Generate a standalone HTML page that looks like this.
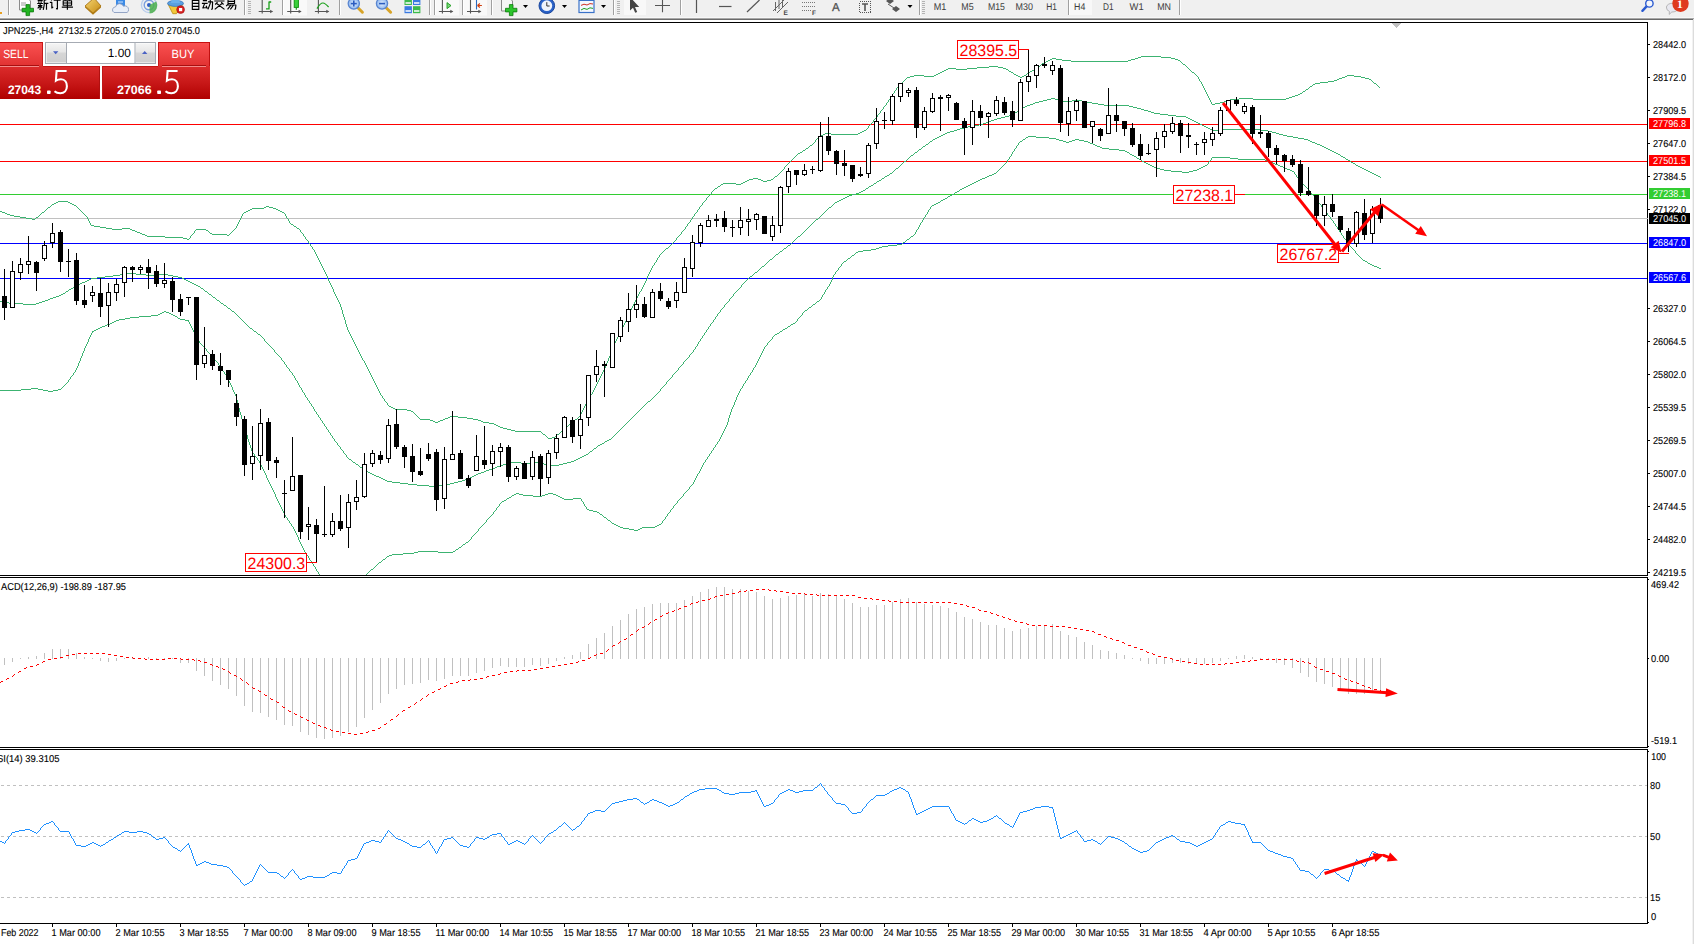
<!DOCTYPE html>
<html><head><meta charset="utf-8"><title>JPN225 H4</title>
<style>
html,body{margin:0;padding:0;background:#fff;overflow:hidden}
body{width:1694px;height:944px;position:relative;font-family:"Liberation Sans",sans-serif}
svg{position:absolute;left:0;top:0;display:block}
svg text{font-family:"Liberation Sans",sans-serif;text-rendering:geometricPrecision}
.k{stroke:#000;stroke-width:0.12px}
</style></head><body>
<svg width="1694" height="944" viewBox="0 0 1694 944">
<rect x="0" y="0" width="1694" height="18" fill="#f0f0f0"/>
<rect x="0" y="17" width="1694" height="1" fill="#f7f7f7"/>
<rect x="0" y="18" width="1694" height="1" fill="#a8a8a8"/>
<rect x="0" y="19" width="1694" height="1" fill="#6a6a6a"/>
<rect x="0" y="22" width="1648" height="1" fill="#000"/>
<rect x="1692" y="20" width="1" height="924" fill="#f2f2f2"/>
<rect x="1693" y="19" width="1" height="925" fill="#dcdcdc"/>
<defs><clipPath id="cm"><rect x="0" y="23" width="1647" height="552"/></clipPath><clipPath id="c2"><rect x="0" y="578" width="1647" height="169"/></clipPath><clipPath id="c3"><rect x="0" y="750" width="1647" height="173"/></clipPath></defs>
<rect x="1647" y="22" width="1" height="554" fill="#000"/>
<rect x="1647" y="577" width="1" height="171" fill="#000"/>
<rect x="1647" y="749" width="1" height="175" fill="#000"/>
<rect x="0" y="575" width="1648" height="1" fill="#000"/>
<rect x="0" y="577" width="1648" height="1" fill="#000"/>
<rect x="0" y="747" width="1648" height="1" fill="#000"/>
<rect x="0" y="749" width="1648" height="1" fill="#000"/>
<rect x="0" y="923" width="1648" height="1" fill="#000"/>
<rect x="1648" y="579" width="1" height="1" fill="#000"/>
<rect x="1648" y="746" width="1" height="1" fill="#000"/>
<rect x="1648" y="751" width="1" height="1" fill="#000"/>
<rect x="1648" y="922" width="1" height="1" fill="#000"/>
<rect x="1392" y="23" width="9" height="1" fill="#c0c0c0"/>
<rect x="1393" y="24" width="7" height="1" fill="#c0c0c0"/>
<rect x="1394" y="25" width="5" height="1" fill="#c0c0c0"/>
<rect x="1395" y="26" width="3" height="1" fill="#c0c0c0"/>
<rect x="1396" y="27" width="1" height="1" fill="#c0c0c0"/>
<g shape-rendering="crispEdges">
<rect x="0" y="124" width="1647" height="1" fill="#ff0000"/>
<rect x="0" y="161" width="1647" height="1" fill="#ff0000"/>
<rect x="0" y="194" width="1647" height="1" fill="#32cd32"/>
<rect x="0" y="218" width="1647" height="1" fill="#c0c0c0"/>
<rect x="0" y="243" width="1647" height="1" fill="#0000ff"/>
<rect x="0" y="278" width="1647" height="1" fill="#0000ff"/>
<path d="M0 0m1141 56h20m-23 1h3m20 0h10m-119 1h4m79 0h3m33 0h4m-125 1h2m4 0h6m69 0h4m40 0h3m-130 1h2m12 0h9m57 0h3m47 0h2m-134 1h2m23 0h57m52 0h1m-137 1h2m135 0h1m-140 1h2m138 0h1m-142 1h1m141 0h2m-145 1h1m144 0h1m-197 1h9m40 0h2m146 0h1m-210 1h12m9 0h5m34 0h1m149 0h1m-240 1h8m11 0h10m26 0h3m29 0h2m151 0h1m-243 1h2m8 0h11m39 0h2m26 0h1m154 0h1m-246 1h2m62 0h1m23 0h2m156 0h1m-249 1h2m65 0h2m19 0h2m159 0h1m-252 1h2m69 0h2m16 0h1m162 0h2m-256 1h2m73 0h1m13 0h2m165 0h1m-259 1h2m76 0h2m10 0h1m168 0h1m-282 1h10m10 0h2m80 0h2m6 0h2m170 0h1m150 0h7m-444 1h4m10 0h10m84 0h2m2 0h2m173 0h1m147 0h2m7 0h7m-454 1h3m110 0h2m176 0h1m143 0h3m16 0h4m-459 1h1m291 0h1m140 0h3m23 0h4m-464 1h1m293 0h1m137 0h2m30 0h2m-467 1h1m294 0h1m134 0h3m34 0h1m-469 1h1m296 0h1m127 0h6m38 0h1m-471 1h1m298 0h1m118 0h8m45 0h1m-473 1h1m299 0h1m113 0h5m54 0h2m-476 1h1m301 0h1m110 0h2m61 0h1m-478 1h1m302 0h1m109 0h1m64 0h1m-480 1h1m304 0h1m106 0h2m66 0h1m-482 1h1m305 0h1m105 0h1m69 0h1m-484 1h1m307 0h1m103 0h1m-413 1h1m307 0h1m101 0h2m-413 1h1m309 0h1m99 0h1m-412 1h1m310 0h1m97 0h2m-411 1h1m311 0h1m95 0h1m-410 1h1m312 0h1m93 0h2m-410 1h1m314 0h1m90 0h2m-408 1h1m314 0h1m87 0h3m-407 1h1m316 0h1m83 0h3m-405 1h1m317 0h1m80 0h3m-402 1h1m160 0h4m154 0h1m29 0h14m33 0h3m-400 1h1m157 0h4m4 0h4m150 0h1m20 0h9m14 0h33m-398 1h1m154 0h4m12 0h4m9 0h10m128 0h1m16 0h3m-342 1h1m150 0h4m20 0h9m10 0h5m123 0h1m13 0h3m-340 1h1m147 0h4m48 0h5m119 0h1m8 0h4m-338 1h1m146 0h2m57 0h6m113 0h1m3 0h5m-334 1h1m143 0h3m65 0h6m108 0h3m-330 1h1m141 0h3m74 0h25m-245 1h1m140 0h2m102 0h4m-250 1h1m139 0h2m108 0h4m-254 1h1m137 0h2m114 0h4m-259 1h1m137 0h1m120 0h3m-263 1h1m136 0h2m124 0h4m-268 1h1m136 0h1m130 0h3m-271 1h1m134 0h2m134 0h3m-275 1h1m134 0h1m139 0h6m-282 1h1m133 0h2m146 0h8m-291 1h1m131 0h3m156 0h8m-299 1h1m127 0h4m167 0h10m-310 1h1m124 0h4m181 0h2m-313 1h1m121 0h4m187 0h2m-316 1h1m119 0h3m193 0h2m-319 1h1m117 0h3m198 0h2m-321 1h1m115 0h2m203 0h2m-324 1h1m113 0h3m207 0h2m-327 1h1m111 0h3m212 0h2m-330 1h1m108 0h4m217 0h2m-333 1h1m104 0h5m223 0h2m-336 1h1m99 0h6m230 0h2m-338 1h1m95 0h4m238 0h2m-341 1h1m92 0h4m244 0h2m-344 1h1m90 0h3m250 0h2m7 0h41m-396 1h2m88 0h3m255 0h7m41 0h8m-406 1h2m86 0h4m314 0h4m-412 1h2m85 0h3m322 0h4m-451 1h6m27 0h2m85 0h2m329 0h3m-456 1h2m6 0h27m85 0h2m334 0h4m-462 1h2m118 0h2m340 0h4m-468 1h2m118 0h2m87 0h8m251 0h6m-475 1h1m118 0h2m87 0h2m8 0h13m244 0h5m-481 1h1m117 0h2m88 0h1m23 0h7m242 0h6m-488 1h1m116 0h2m88 0h2m31 0h3m16 0h4m225 0h4m-493 1h1m116 0h1m89 0h1m36 0h4m9 0h3m4 0h5m224 0h2m-495 1h1m114 0h2m88 0h2m41 0h3m3 0h3m12 0h4m222 0h2m-498 1h1m114 0h1m89 0h1m46 0h3m19 0h2m222 0h3m-502 1h1m114 0h1m89 0h1m71 0h3m222 0h2m-505 1h1m113 0h2m90 0h1m74 0h2m222 0h3m-510 1h2m113 0h1m91 0h1m77 0h2m223 0h2m-513 1h1m113 0h2m91 0h1m80 0h3m222 0h2m-516 1h1m113 0h1m93 0h1m83 0h2m222 0h2m-520 1h2m113 0h1m93 0h1m86 0h7m217 0h2m-523 1h1m113 0h2m93 0h1m94 0h10m209 0h2m-527 1h2m113 0h1m95 0h1m104 0h6m205 0h2m-530 1h1m114 0h1m95 0h1m111 0h2m205 0h2m-534 1h2m113 0h2m95 0h1m114 0h2m205 0h2m-538 1h2m114 0h1m97 0h1m116 0h1m206 0h2m-541 1h1m115 0h1m97 0h1m118 0h2m206 0h2m-544 1h1m114 0h2m98 0h1m120 0h2m206 0h1m-546 1h1m114 0h1m99 0h1m123 0h2m205 0h2m-549 1h1m114 0h1m99 0h1m126 0h1m75 0h18m113 0h2m-552 1h1m114 0h1m100 0h1m127 0h2m72 0h1m18 0h8m107 0h1m-554 1h1m114 0h1m100 0h1m130 0h2m70 0h1m26 0h27m81 0h2m-557 1h1m114 0h1m100 0h1m133 0h1m68 0h1m54 0h2m81 0h2m-560 1h1m113 0h2m101 0h1m134 0h2m65 0h1m57 0h3m80 0h1m-562 1h1m113 0h1m102 0h1m137 0h2m62 0h1m61 0h3m78 0h2m-565 1h1m113 0h1m102 0h1m140 0h2m60 0h1m64 0h2m78 0h2m-568 1h1m113 0h1m102 0h1m143 0h2m57 0h1m67 0h3m77 0h1m-570 1h1m113 0h1m102 0h1m146 0h2m53 0h2m71 0h2m76 0h2m-573 1h1m113 0h1m102 0h1m149 0h2m49 0h2m75 0h3m75 0h2m-576 1h1m113 0h1m102 0h1m152 0h2m45 0h2m80 0h2m75 0h2m-578 1h1m111 0h2m102 0h1m155 0h4m39 0h2m84 0h2m75 0h2m-581 1h1m111 0h1m103 0h1m160 0h4m33 0h2m88 0h3m74 0h2m-584 1h1m111 0h1m103 0h1m165 0h7m22 0h4m93 0h2m74 0h2m-587 1h1m111 0h1m103 0h1m173 0h11m7 0h4m99 0h2m74 0h2m-590 1h1m111 0h1m103 0h1m185 0h7m105 0h1m75 0h2m-593 1h1m110 0h2m102 0h2m298 0h1m77 0h2m-596 1h1m110 0h1m102 0h2m301 0h1m78 0h2m-599 1h1m109 0h2m100 0h3m304 0h1m79 0h2m-603 1h2m108 0h2m100 0h2m307 0h1m81 0h2m-606 1h1m109 0h1m100 0h2m310 0h1m82 0h1m-628 1h5m15 0h1m108 0h2m98 0h3m313 0h1m-550 1h4m5 0h3m10 0h2m108 0h1m98 0h2m316 0h1m-552 1h2m12 0h2m4 0h4m108 0h2m97 0h2m319 0h1m-555 1h2m16 0h4m110 0h2m97 0h2m322 0h1m-558 1h2m131 0h1m97 0h2m325 0h1m-579 1h13m5 0h2m131 0h2m96 0h2m328 0h1m-582 1h2m13 0h5m132 0h1m96 0h2m331 0h1m-584 1h1m150 0h2m95 0h2m334 0h1m-587 1h2m149 0h2m95 0h2m337 0h1m-589 1h1m150 0h1m95 0h2m340 0h1m-592 1h2m149 0h2m94 0h2m343 0h1m-594 1h1m150 0h1m94 0h2m346 0h1m-596 1h1m149 0h2m94 0h1m349 0h1m-598 1h1m148 0h2m94 0h2m351 0h1m-600 1h1m147 0h2m94 0h2m353 0h1m-600 1h1m144 0h3m95 0h1m356 0h1m-602 1h1m141 0h4m96 0h2m358 0h1m-604 1h1m139 0h3m98 0h2m361 0h1m-606 1h1m138 0h2m99 0h2m364 0h1m-608 1h1m137 0h2m100 0h1m367 0h1m-610 1h1m136 0h2m100 0h2m368 0h1m-610 1h1m134 0h2m100 0h2m371 0h1m-612 1h1m133 0h2m100 0h2m374 0h1m-1260 1h10m636 0h1m132 0h2m101 0h1m377 0h1m-1263 1h2m10 0h2m633 0h1m131 0h2m101 0h2m378 0h1m-1265 1h2m14 0h2m630 0h1m131 0h1m101 0h2m381 0h1m-1268 1h2m18 0h2m628 0h1m130 0h1m100 0h2m384 0h1m-1270 1h1m22 0h2m625 0h1m130 0h1m99 0h2m387 0h1m-1272 1h1m25 0h1m189 0h3m431 0h1m130 0h1m99 0h1m389 0h1m-1274 1h2m27 0h1m186 0h2m3 0h4m426 0h1m129 0h2m99 0h1m391 0h1m-1276 1h1m30 0h1m173 0h12m9 0h3m423 0h1m128 0h1m101 0h1m392 0h1m-1278 1h1m32 0h1m170 0h2m24 0h2m420 0h1m128 0h1m101 0h1m394 0h1m-1280 1h1m34 0h1m167 0h2m28 0h2m417 0h1m128 0h1m101 0h1m395 0h1m-1325 1h2m42 0h1m36 0h1m164 0h2m32 0h2m415 0h1m127 0h1m102 0h1m396 0h1m-1324 1h3m37 0h2m38 0h1m161 0h2m36 0h2m412 0h1m127 0h1m102 0h1m398 0h1m-1322 1h2m34 0h1m41 0h1m159 0h1m40 0h1m410 0h1m127 0h1m103 0h1m399 0h1m-1321 1h3m30 0h1m43 0h1m157 0h1m42 0h1m408 0h1m127 0h1m103 0h1m400 0h1m-1318 1h4m25 0h1m45 0h1m156 0h1m42 0h1m408 0h1m126 0h1m103 0h1m402 0h1m-1315 1h6m18 0h1m47 0h1m154 0h1m44 0h1m406 0h1m126 0h1m104 0h1m403 0h1m-1310 1h6m10 0h2m49 0h1m153 0h1m44 0h1m405 0h1m126 0h1m104 0h1m405 0h1m-1305 1h6m3 0h1m51 0h1m152 0h1m46 0h1m404 0h1m125 0h1m104 0h1m406 0h1m-1299 1h3m53 0h1m151 0h1m47 0h1m402 0h1m124 0h2m105 0h1m407 0h1m-1244 1h1m150 0h1m48 0h1m401 0h1m124 0h1m106 0h1m409 0h1m-1244 1h1m149 0h1m49 0h1m400 0h1m123 0h1m107 0h1m410 0h1m-1245 1h1m148 0h1m50 0h1m399 0h1m123 0h1m107 0h1m411 0h1m-1244 1h1m147 0h1m51 0h1m397 0h1m123 0h1m107 0h1m413 0h1m-1245 1h1m146 0h1m53 0h2m394 0h1m123 0h1m108 0h1m414 0h1m-1245 1h3m143 0h1m55 0h1m393 0h1m122 0h1m108 0h1m415 0h1m-1242 1h6m136 0h1m57 0h2m390 0h1m122 0h1m109 0h1m416 0h1m-1237 1h6m130 0h1m59 0h1m388 0h1m122 0h1m109 0h1m418 0h1m-1232 1h6m10 0h8m105 0h1m61 0h2m386 0h1m121 0h1m110 0h1m418 0h1m-1226 1h10m8 0h2m64 0h10m28 0h1m64 0h1m384 0h1m121 0h1m110 0h1m420 0h1m-1207 1h3m60 0h1m10 0h2m25 0h1m66 0h1m382 0h1m121 0h1m110 0h1m422 0h1m-1205 1h2m57 0h1m13 0h1m23 0h1m67 0h1m381 0h1m121 0h1m111 0h1m422 0h1m-1203 1h3m54 0h1m14 0h1m21 0h1m69 0h1m379 0h1m121 0h1m111 0h1m424 0h1m-1201 1h2m51 0h1m16 0h2m18 0h1m71 0h1m378 0h1m120 0h1m112 0h1m425 0h1m-1200 1h3m47 0h1m19 0h15m2 0h1m73 0h1m376 0h1m120 0h1m112 0h1m426 0h1m-1197 1h2m44 0h1m35 0h2m74 0h1m375 0h1m120 0h1m112 0h1m428 0h1m-1196 1h18m25 0h1m113 0h1m373 0h1m119 0h2m111 0h2m430 0h1m-1179 1h18m7 0h1m114 0h1m371 0h1m119 0h1m112 0h1m432 0h1m-1161 1h4m2 0h1m115 0h1m370 0h1m119 0h1m112 0h1m434 0h1m-1158 1h2m117 0h1m369 0h1m118 0h1m111 0h2m436 0h1m-1039 1h1m367 0h1m118 0h1m111 0h1m439 0h1m-1039 1h1m365 0h1m118 0h1m111 0h1m440 0h1m-1039 1h1m364 0h1m118 0h1m110 0h2m442 0h1m-1039 1h1m362 0h1m118 0h1m110 0h1m445 0h1m-1039 1h1m360 0h1m118 0h1m106 0h5m446 0h1m-1039 1h1m359 0h1m117 0h2m98 0h9m452 0h1m-1039 1h1m357 0h1m117 0h1m94 0h6m462 0h1m-1039 1h1m355 0h1m117 0h1m92 0h3m469 0h1m-1040 1h1m353 0h2m116 0h2m90 0h3m473 0h1m-1040 1h1m351 0h1m117 0h1m87 0h5m477 0h1m-1040 1h1m349 0h1m117 0h1m80 0h8m483 0h1m-1041 1h1m348 0h1m116 0h2m76 0h5m492 0h1m-1041 1h1m346 0h1m116 0h1m76 0h2m497 0h1m-1041 1h1m345 0h1m116 0h1m76 0h1m500 0h1m-1041 1h1m343 0h1m115 0h2m76 0h1m502 0h1m-1042 1h1m342 0h1m115 0h1m76 0h2m504 0h1m-1042 1h1m341 0h1m114 0h1m76 0h1m507 0h1m-1043 1h1m340 0h1m114 0h1m76 0h1m509 0h1m-1043 1h1m338 0h1m114 0h1m75 0h2m511 0h1m-1044 1h1m338 0h1m112 0h2m75 0h1m514 0h1m-1044 1h1m336 0h1m112 0h1m76 0h1m516 0h2m-1046 1h1m336 0h1m111 0h1m75 0h2m519 0h2m-1047 1h1m334 0h1m111 0h1m75 0h1m523 0h1m-1048 1h1m333 0h1m111 0h1m75 0h1m525 0h2m-1049 1h1m332 0h1m110 0h1m75 0h1m528 0h2m-1051 1h1m331 0h1m110 0h1m76 0h1m530 0h2m-1052 1h1m329 0h1m109 0h2m76 0h1m533 0h3m-1055 1h1m329 0h1m108 0h1m77 0h1m537 0h2m-1056 1h1m327 0h1m108 0h1m77 0h1m540 0h2m-1058 1h1m327 0h1m107 0h1m78 0h1m-515 1h1m325 0h1m107 0h1m78 0h1m-514 1h1m325 0h1m106 0h1m78 0h1m-512 1h1m323 0h1m105 0h2m78 0h1m-709 1h9m189 0h1m323 0h1m104 0h1m80 0h1m-716 1h7m9 0h10m12 0h10m158 0h1m321 0h1m104 0h1m80 0h1m-722 1h7m26 0h12m10 0h5m153 0h1m321 0h1m103 0h1m80 0h1m-729 1h8m60 0h5m572 0h2m81 0h1m-737 1h8m73 0h4m567 0h1m-659 1h6m85 0h2m564 0h1m-660 1h2m93 0h2m142 0h1m317 0h1m100 0h1m-661 1h2m97 0h2m140 0h1m317 0h1m99 0h1m84 0h1m-747 1h2m101 0h2m139 0h1m315 0h1m99 0h1m85 0h1m-750 1h3m105 0h2m137 0h1m315 0h1m98 0h1m85 0h1m-751 1h2m110 0h2m136 0h1m313 0h1m98 0h1m86 0h1m-753 1h2m114 0h2m134 0h1m313 0h1m97 0h1m86 0h1m-754 1h2m118 0h2m133 0h1m311 0h1m97 0h1m87 0h1m-756 1h2m122 0h2m131 0h1m311 0h1m97 0h1m86 0h1m-756 1h1m126 0h1m131 0h1m309 0h1m97 0h1m86 0h1m-757 1h2m128 0h2m129 0h1m309 0h1m96 0h1m87 0h1m-759 1h2m132 0h1m437 0h1m96 0h1m87 0h1m-759 1h1m135 0h1m436 0h1m95 0h1m87 0h1m-760 1h2m137 0h2m433 0h1m95 0h1m88 0h1m-761 1h1m141 0h1m126 0h1m304 0h1m95 0h1m88 0h1m-762 1h2m143 0h1m125 0h1m304 0h1m94 0h1m89 0h1m-764 1h2m146 0h2m124 0h1m302 0h1m94 0h1m89 0h1m-765 1h2m150 0h1m123 0h1m302 0h1m94 0h1m88 0h1m-767 1h3m153 0h1m123 0h1m300 0h1m94 0h1m89 0h1m-770 1h3m157 0h2m121 0h1m300 0h1m93 0h1m89 0h1m-772 1h3m162 0h1m121 0h1m298 0h1m93 0h1m90 0h1m-774 1h2m166 0h1m120 0h1m298 0h1m92 0h1m90 0h1m-776 1h3m169 0h2m119 0h1m296 0h1m93 0h1m89 0h1m-820 1h3m39 0h3m174 0h1m118 0h1m296 0h1m92 0h1m88 0h2m-816 1h6m30 0h3m178 0h1m118 0h1m294 0h1m92 0h1m88 0h1m-808 1h14m13 0h3m182 0h2m116 0h1m294 0h1m91 0h1m88 0h1m-793 1h13m187 0h1m409 0h1m91 0h1m87 0h2m-591 1h2m407 0h1m90 0h1m87 0h1m-587 1h1m405 0h1m91 0h1m86 0h1m-585 1h1m404 0h1m90 0h1m85 0h2m-583 1h2m401 0h1m90 0h1m85 0h1m-579 1h1m400 0h1m89 0h1m85 0h1m-577 1h1m398 0h1m89 0h1m84 0h2m-643 1h2m66 0h2m396 0h1m89 0h1m83 0h1m-643 1h2m2 0h3m65 0h1m394 0h1m89 0h1m83 0h1m-644 1h2m7 0h2m64 0h1m393 0h1m88 0h1m83 0h1m-645 1h2m11 0h2m63 0h1m391 0h1m88 0h1m84 0h1m-652 1h7m15 0h2m62 0h1m390 0h1m88 0h1m83 0h1m-663 1h12m24 0h2m61 0h1m388 0h1m88 0h1m83 0h1m-671 1h9m38 0h1m61 0h1m387 0h1m87 0h1m83 0h1m-675 1h5m48 0h2m60 0h1m474 0h1m82 0h1m-680 1h6m55 0h5m56 0h1m472 0h1m82 0h1m-682 1h3m66 0h4m53 0h1m470 0h1m83 0h1m-684 1h2m72 0h1m54 0h1m381 0h1m87 0h1m82 0h1m-685 1h2m75 0h1m54 0h1m380 0h1m86 0h1m82 0h1m-686 1h2m77 0h1m55 0h1m378 0h1m86 0h1m81 0h2m-688 1h3m80 0h1m55 0h1m377 0h1m85 0h1m80 0h2m-688 1h2m83 0h1m56 0h1m375 0h1m86 0h1m79 0h1m-689 1h3m86 0h1m56 0h1m374 0h1m85 0h1m78 0h2m-690 1h2m89 0h1m57 0h1m372 0h1m85 0h1m78 0h1m-690 1h2m92 0h1m57 0h2m370 0h1m85 0h1m76 0h2m-691 1h2m94 0h1m59 0h1m368 0h1m85 0h1m75 0h2m-691 1h2m97 0h1m59 0h1m94 0h1m272 0h1m84 0h1m75 0h1m-691 1h2m99 0h1m60 0h2m92 0h1m271 0h1m85 0h1m73 0h2m-690 1h1m101 0h1m61 0h1m92 0h1m270 0h1m84 0h1m73 0h1m-689 1h1m102 0h1m62 0h1m91 0h1m269 0h1m84 0h1m72 0h2m-688 1h1m103 0h1m62 0h2m90 0h1m268 0h1m84 0h1m70 0h2m-687 1h1m104 0h1m64 0h1m89 0h1m267 0h1m84 0h1m70 0h1m-685 1h1m105 0h1m64 0h1m89 0h1m266 0h1m83 0h1m70 0h1m-685 1h1m106 0h1m65 0h1m88 0h1m265 0h1m84 0h1m69 0h1m-684 1h1m107 0h1m65 0h1m88 0h1m264 0h1m83 0h1m70 0h1m-575 1h1m65 0h1m87 0h1m263 0h1m83 0h1m70 0h1m-574 1h1m65 0h1m88 0h1m262 0h1m83 0h1m69 0h1m-572 1h1m65 0h1m87 0h1m261 0h1m83 0h1m69 0h1m-683 1h1m111 0h1m66 0h1m87 0h1m260 0h1m82 0h1m69 0h1m-682 1h1m112 0h1m66 0h1m86 0h1m343 0h1m68 0h1m-682 1h1m114 0h1m66 0h1m86 0h1m341 0h1m69 0h1m-682 1h1m115 0h1m66 0h1m85 0h1m341 0h1m68 0h1m-682 1h1m117 0h1m66 0h1m85 0h1m256 0h1m82 0h1m68 0h1m-681 1h1m118 0h1m66 0h1m84 0h1m256 0h1m81 0h1m68 0h1m-560 1h1m66 0h1m84 0h1m337 0h1m68 0h1m-559 1h1m66 0h1m83 0h1m336 0h1m68 0h1m-558 1h1m67 0h1m83 0h1m334 0h1m69 0h1m-681 1h1m123 0h1m66 0h1m83 0h1m252 0h1m81 0h1m68 0h1m-680 1h1m124 0h1m66 0h1m83 0h1m251 0h1m80 0h1m69 0h1m-554 1h1m66 0h1m82 0h1m331 0h1m69 0h1m-552 1h1m66 0h1m82 0h1m329 0h1m70 0h1m-551 1h1m66 0h1m81 0h1m328 0h1m70 0h1m-680 1h1m130 0h1m66 0h1m81 0h1m247 0h1m79 0h1m70 0h1m-680 1h1m131 0h1m66 0h1m80 0h1m247 0h1m78 0h1m70 0h1m-546 1h1m66 0h1m80 0h1m324 0h1m71 0h1m-546 1h1m66 0h1m80 0h1m323 0h1m71 0h1m-544 1h1m66 0h1m80 0h1m321 0h1m72 0h1m-680 1h1m136 0h1m66 0h1m80 0h1m242 0h1m76 0h1m72 0h1m-679 1h1m137 0h1m66 0h1m79 0h1m242 0h1m75 0h1m73 0h1m-540 1h1m65 0h1m80 0h1m317 0h1m72 0h1m-539 1h1m66 0h1m79 0h1m316 0h1m73 0h1m-538 1h1m66 0h1m79 0h1m314 0h1m73 0h1m-679 1h1m142 0h1m65 0h1m79 0h1m238 0h1m74 0h1m74 0h1m-679 1h1m143 0h1m65 0h1m79 0h1m237 0h1m73 0h1m74 0h1m-679 1h1m144 0h1m66 0h1m78 0h1m236 0h1m73 0h1m74 0h1m-678 1h1m145 0h1m66 0h1m78 0h1m235 0h1m73 0h1m74 0h1m-679 1h1m146 0h1m66 0h1m78 0h1m234 0h1m73 0h1m74 0h1m-678 1h1m147 0h1m66 0h1m78 0h1m233 0h1m72 0h1m75 0h1m-679 1h1m149 0h1m66 0h1m77 0h1m232 0h1m72 0h1m75 0h1m-679 1h1m150 0h1m67 0h1m77 0h1m231 0h1m71 0h1m75 0h1m-678 1h1m151 0h1m66 0h1m77 0h1m230 0h1m71 0h1m76 0h1m-679 1h1m153 0h1m66 0h1m77 0h1m229 0h1m70 0h1m76 0h1m-679 1h1m154 0h1m67 0h1m76 0h1m228 0h1m71 0h1m75 0h1m-679 1h1m156 0h1m66 0h1m77 0h1m227 0h1m70 0h1m76 0h1m-679 1h1m156 0h1m67 0h1m76 0h1m226 0h1m70 0h1m76 0h1m-679 1h1m158 0h1m66 0h1m77 0h1m225 0h1m69 0h1m77 0h1m-680 1h1m159 0h1m67 0h1m76 0h1m224 0h1m69 0h1m77 0h1m-679 1h1m160 0h1m67 0h1m76 0h1m223 0h1m68 0h1m77 0h1m-679 1h1m161 0h1m67 0h1m76 0h1m222 0h1m68 0h1m78 0h1m-680 1h1m163 0h1m67 0h1m76 0h1m221 0h1m68 0h1m77 0h1m-680 1h1m164 0h1m67 0h1m76 0h1m220 0h1m68 0h1m77 0h1m-680 1h1m166 0h1m67 0h1m76 0h1m219 0h1m67 0h1m78 0h1m-681 1h1m167 0h1m67 0h1m76 0h1m218 0h1m67 0h1m78 0h1m-681 1h1m237 0h1m76 0h1m217 0h1m66 0h1m79 0h1m-712 1h7m23 0h1m239 0h1m75 0h1m216 0h1m66 0h1m79 0h1m-721 1h10m7 0h5m15 0h3m240 0h1m76 0h1m215 0h1m65 0h1m79 0h1m-741 1h21m22 0h5m5 0h5m175 0h1m68 0h1m75 0h1m214 0h1m66 0h1m79 0h1m-693 1h5m180 0h1m68 0h1m76 0h1m213 0h1m65 0h1m79 0h1m-506 1h1m68 0h1m75 0h1m212 0h1m65 0h1m80 0h1m-506 1h1m69 0h1m75 0h1m211 0h1m64 0h1m80 0h1m-504 1h1m68 0h1m75 0h1m210 0h1m64 0h1m81 0h1m-504 1h1m69 0h1m75 0h1m208 0h1m64 0h1m81 0h1m-433 1h1m76 0h1m207 0h1m63 0h1m82 0h1m-432 1h1m75 0h1m206 0h1m63 0h1m-347 1h1m75 0h1m205 0h1m62 0h1m-346 1h1m76 0h1m203 0h1m62 0h1m-344 1h1m75 0h1m203 0h1m61 0h1m84 0h1m-427 1h1m75 0h1m201 0h1m60 0h2m85 0h1m-427 1h1m76 0h1m200 0h1m59 0h1m-338 1h1m76 0h1m198 0h1m59 0h1m-336 1h1m75 0h1m197 0h1m59 0h1m-335 1h1m76 0h1m196 0h1m58 0h1m88 0h1m-422 1h1m76 0h2m193 0h1m58 0h1m89 0h1m-421 1h1m77 0h2m191 0h1m57 0h1m89 0h1m-420 1h1m79 0h2m188 0h1m57 0h1m90 0h1m-419 1h1m80 0h12m176 0h1m56 0h1m-327 1h1m92 0h4m171 0h1m56 0h1m-325 1h1m95 0h2m169 0h1m55 0h1m-323 1h1m96 0h1m167 0h1m55 0h1m-322 1h1m97 0h1m166 0h1m54 0h1m-320 1h1m97 0h1m164 0h1m54 0h1m-318 1h1m97 0h1m163 0h1m53 0h1m-317 1h1m98 0h1m32 0h8m121 0h1m53 0h1m-315 1h1m98 0h1m29 0h2m8 0h9m111 0h1m53 0h1m-313 1h1m98 0h1m25 0h3m19 0h6m104 0h1m53 0h1m-312 1h1m99 0h10m13 0h2m28 0h5m97 0h2m53 0h1m-310 1h1m108 0h3m7 0h3m35 0h3m93 0h1m54 0h1m-308 1h1m110 0h2m3 0h2m41 0h2m90 0h1m54 0h1m-307 1h1m112 0h3m45 0h6m83 0h1m54 0h1m-305 1h1m165 0h5m77 0h1m54 0h1m-303 1h1m169 0h2m73 0h2m54 0h1m-302 1h1m171 0h2m70 0h1m55 0h1m101 0h1m-402 1h1m172 0h2m67 0h1m55 0h1m102 0h1m-401 1h1m173 0h3m63 0h1m55 0h1m102 0h1m-400 1h1m176 0h4m57 0h2m55 0h1m103 0h1m-399 1h1m179 0h4m52 0h1m56 0h1m103 0h1m-397 1h1m182 0h4m47 0h1m56 0h1m104 0h1m-397 1h1m186 0h26m20 0h1m56 0h1m104 0h1m-395 1h1m211 0h1m18 0h1m56 0h1m105 0h1m-394 1h1m211 0h1m16 0h1m56 0h1m105 0h1m-393 1h1m212 0h2m12 0h2m56 0h1m106 0h1m-392 1h1m213 0h1m10 0h1m57 0h1m106 0h1m-390 1h1m213 0h1m8 0h1m57 0h1m107 0h1m-390 1h1m214 0h1m4 0h3m57 0h1m107 0h1m-388 1h1m214 0h4m59 0h1m108 0h1m-387 1h1m274 0h2m108 0h1m-386 1h1m272 0h2m110 0h1m-385 1h1m269 0h2m111 0h1m-383 1h1m267 0h1m112 0h1m-381 1h1m264 0h2m113 0h1m-381 1h1m262 0h2m114 0h1m-379 1h1m259 0h2m115 0h1m-377 1h1m257 0h1m117 0h1m-376 1h1m255 0h1m117 0h1m-375 1h1m253 0h2m117 0h1m-373 1h1m251 0h1m119 0h1m-372 1h1m249 0h1m119 0h1m-461 1h1m90 0h1m246 0h2m119 0h1m-460 1h1m90 0h1m245 0h1m121 0h1m-459 1h1m90 0h1m243 0h1m121 0h1m-457 1h1m90 0h1m240 0h2m121 0h1m-456 1h1m91 0h1m237 0h2m123 0h1m-455 1h1m90 0h1m235 0h2m124 0h1m-453 1h1m90 0h1m232 0h2m125 0h1m-451 1h1m90 0h1m229 0h2m127 0h1m-451 1h1m91 0h2m225 0h2m128 0h1m-449 1h1m92 0h1m222 0h2m129 0h1m-447 1h1m92 0h1m218 0h3m131 0h1m-447 1h1m93 0h2m156 0h10m14 0h7m25 0h4m133 0h1m-445 1h1m94 0h1m151 0h4m10 0h14m7 0h2m19 0h4m136 0h1m-444 1h1m95 0h2m145 0h4m37 0h2m13 0h4m140 0h1m-443 1h1m96 0h1m141 0h3m43 0h13m143 0h1m-442 1h1m97 0h1m137 0h3m202 0h1m-441 1h1m97 0h2m133 0h2m204 0h1m-440 1h1m99 0h1m129 0h3m206 0h1m-439 1h1m99 0h1m125 0h3m208 0h1m-438 1h1m100 0h2m120 0h3m211 0h1m-437 1h1m101 0h2m116 0h2m213 0h1m-436 1h1m103 0h2m111 0h3m215 0h1m-435 1h1m104 0h2m106 0h3m217 0h1m-434 1h1m106 0h2m102 0h2m219 0h1m-324 1h2m98 0h2m221 0h1m-322 1h3m93 0h2m222 0h1m-318 1h2m89 0h2m224 0h1m-430 1h1m113 0h2m85 0h2m225 0h1m-429 1h1m115 0h2m80 0h3m227 0h1m-428 1h1m116 0h2m75 0h3m229 0h1m-427 1h1m118 0h5m66 0h4m232 0h1m-426 1h1m122 0h8m54 0h4m235 0h1m-425 1h1m130 0h8m42 0h4m239 0h1m-424 1h1m137 0h9m27 0h6m242 0h1m-423 1h1m146 0h12m9 0h6m247 0h1m-421 1h1m157 0h9m252 0h1m-420 1h1m417 0h1m-418 1h1m416 0h1m-418 1h1m415 0h1m-416 1h1m413 0h1m-415 1h1m412 0h1m-413 1h1m410 0h1m-412 1h1m241 0h3m29 0h5m131 0h1m-171 1h2m3 0h4m22 0h3m5 0h3m127 0h1m-172 1h2m9 0h10m9 0h3m11 0h2m125 0h1m-173 1h1m21 0h9m16 0h2m122 0h1m-407 1h1m232 0h2m49 0h2m119 0h1m-406 1h1m230 0h2m53 0h2m9 0h8m99 0h1m-404 1h1m228 0h1m57 0h9m8 0h1m97 0h1m-403 1h1m226 0h2m75 0h1m96 0h1m-401 1h1m223 0h2m78 0h1m94 0h1m-400 1h1m222 0h1m81 0h1m93 0h1m-399 1h1m220 0h1m82 0h1m92 0h1m-398 1h1m219 0h1m84 0h1m90 0h1m-396 1h1m218 0h1m84 0h1m89 0h1m-395 1h1m217 0h1m86 0h1m87 0h1m-393 1h1m215 0h1m88 0h1m86 0h1m-393 1h1m214 0h1m89 0h1m85 0h1m-391 1h1m213 0h1m90 0h2m82 0h1m-390 1h1m212 0h1m93 0h4m77 0h1m-388 1h1m210 0h1m98 0h4m73 0h1m-388 1h1m209 0h1m103 0h2m70 0h1m-386 1h1m208 0h1m105 0h1m68 0h1m-385 1h1m207 0h1m107 0h2m65 0h1m-383 1h1m205 0h1m110 0h1m64 0h1m-383 1h1m204 0h1m112 0h1m62 0h1m-381 1h1m202 0h1m114 0h2m59 0h1m-379 1h1m200 0h1m117 0h1m58 0h1m-379 1h1m199 0h1m119 0h1m56 0h1m-377 1h1m197 0h1m121 0h2m53 0h1m-375 1h1m196 0h1m123 0h1m51 0h1m-374 1h1m195 0h1m125 0h1m50 0h1m-373 1h1m193 0h1m127 0h2m47 0h1m-371 1h1m191 0h1m130 0h2m43 0h2m-370 1h1m190 0h1m133 0h2m39 0h2m-367 1h1m188 0h1m136 0h2m35 0h2m-364 1h1m186 0h1m139 0h3m19 0h13m-362 1h1m185 0h1m143 0h6m11 0h2m-348 1h1m183 0h1m150 0h5m4 0h2m-346 1h1m183 0h1m155 0h4m-343 1h1m181 0h1m-183 1h1m180 0h1m-181 1h1m178 0h1m-180 1h1m177 0h1m-178 1h1m175 0h1m-177 1h1m174 0h1m-2 1h1m-1 1h1m-2 1h1m-172 1h1m169 0h1m-171 1h1m168 0h1m-169 1h1m165 0h2m-168 1h1m164 0h1m-165 1h1m161 0h2m-164 1h1m160 0h1m-161 1h1m158 0h1m-160 1h1m156 0h2m-158 1h1m154 0h1m-156 1h1m152 0h2m-154 1h1m150 0h1m-152 1h1m113 0h20m15 0h2m-150 1h1m108 0h4m20 0h15m-147 1h1m96 0h11m-108 1h1m85 0h11m-96 1h1m81 0h3m-84 1h1m78 0h2m-81 1h1m77 0h1m-78 1h1m75 0h1m-77 1h1m73 0h2m-75 1h1m71 0h1m-72 1h1m69 0h1m-71 1h1m67 0h2m-69 1h1m65 0h1m-66 1h1m63 0h1m-65 1h1m62 0h1m-63 1h1m60 0h1m-61 1h1m58 0h1m-60 1h1m57 0h1m-58 1h1m54 0h2m-57 1h1m53 0h1m-54 1h1m51 0h1m-52 1h1m49 0h1m-51 1h1m48 0h1m-49 1h1m46 0h1" transform="translate(0 .5)" stroke="#3cb371" stroke-width="1" fill="none"/><path d="M0 0m78 363v3m2-8v3m2-8v3m2-8v3m4-12v3m144 45v3m4 6v4m1 0v4m1 0v4m1 0v4m1 0v3m1 0v4m1 0v3m1 0v4m1 0v3m1 0v3m1 0v3m1 0v4m1 0v3m1 0v3m1 0v3m1 0v3m15 24v3m9 16v3m23 40v3m29-264v3m6 10v3m7 12v3m1 0v3m1 0v4m1 0v3m1 0v3m1 0v4m1 0v3m1 0v3m259 33v3m2-8v3m2-8v3m2-8v3m2-8v3m12-28v3m21-45v3m80 143v3m1-7v4m1-7v3m1-6v3m1-6v3m3-10v3m2-8v3m96-123v3" transform="translate(.5 0)" stroke="#3cb371" stroke-width="1" fill="none"/>
<g clip-path="url(#cm)">
<rect x="4" y="269" width="1" height="51" fill="#000"/>
<rect x="2" y="296" width="5" height="12" fill="#000"/>
<rect x="12" y="261" width="1" height="47" fill="#000"/>
<rect x="10" y="271" width="5" height="37" fill="#000"/>
<rect x="11" y="272" width="3" height="35" fill="#fff"/>
<rect x="20" y="258" width="1" height="22" fill="#000"/>
<rect x="18" y="264" width="5" height="9" fill="#000"/>
<rect x="19" y="265" width="3" height="7" fill="#fff"/>
<rect x="28" y="236" width="1" height="38" fill="#000"/>
<rect x="26" y="261" width="5" height="4" fill="#000"/>
<rect x="27" y="262" width="3" height="2" fill="#fff"/>
<rect x="36" y="261" width="1" height="30" fill="#000"/>
<rect x="34" y="262" width="5" height="11" fill="#000"/>
<rect x="44" y="241" width="1" height="20" fill="#000"/>
<rect x="42" y="245" width="5" height="14" fill="#000"/>
<rect x="43" y="246" width="3" height="12" fill="#fff"/>
<rect x="52" y="223" width="1" height="25" fill="#000"/>
<rect x="50" y="233" width="5" height="10" fill="#000"/>
<rect x="51" y="234" width="3" height="8" fill="#fff"/>
<rect x="60" y="230" width="1" height="42" fill="#000"/>
<rect x="58" y="232" width="5" height="30" fill="#000"/>
<rect x="68" y="249" width="1" height="28" fill="#000"/>
<rect x="66" y="261" width="5" height="1" fill="#000"/>
<rect x="76" y="253" width="1" height="52" fill="#000"/>
<rect x="74" y="260" width="5" height="41" fill="#000"/>
<rect x="84" y="285" width="1" height="23" fill="#000"/>
<rect x="82" y="300" width="5" height="5" fill="#000"/>
<rect x="92" y="286" width="1" height="16" fill="#000"/>
<rect x="90" y="292" width="5" height="4" fill="#000"/>
<rect x="91" y="293" width="3" height="2" fill="#fff"/>
<rect x="100" y="278" width="1" height="39" fill="#000"/>
<rect x="98" y="293" width="5" height="14" fill="#000"/>
<rect x="108" y="283" width="1" height="44" fill="#000"/>
<rect x="106" y="292" width="5" height="14" fill="#000"/>
<rect x="107" y="293" width="3" height="12" fill="#fff"/>
<rect x="116" y="279" width="1" height="22" fill="#000"/>
<rect x="114" y="284" width="5" height="9" fill="#000"/>
<rect x="115" y="285" width="3" height="7" fill="#fff"/>
<rect x="124" y="266" width="1" height="31" fill="#000"/>
<rect x="122" y="267" width="5" height="16" fill="#000"/>
<rect x="123" y="268" width="3" height="14" fill="#fff"/>
<rect x="132" y="266" width="1" height="16" fill="#000"/>
<rect x="130" y="267" width="5" height="3" fill="#000"/>
<rect x="140" y="265" width="1" height="9" fill="#000"/>
<rect x="138" y="267" width="5" height="3" fill="#000"/>
<rect x="139" y="268" width="3" height="1" fill="#fff"/>
<rect x="148" y="259" width="1" height="30" fill="#000"/>
<rect x="146" y="267" width="5" height="6" fill="#000"/>
<rect x="156" y="265" width="1" height="22" fill="#000"/>
<rect x="154" y="271" width="5" height="13" fill="#000"/>
<rect x="164" y="263" width="1" height="25" fill="#000"/>
<rect x="162" y="280" width="5" height="4" fill="#000"/>
<rect x="163" y="281" width="3" height="2" fill="#fff"/>
<rect x="172" y="277" width="1" height="35" fill="#000"/>
<rect x="170" y="281" width="5" height="19" fill="#000"/>
<rect x="180" y="294" width="1" height="22" fill="#000"/>
<rect x="178" y="299" width="5" height="13" fill="#000"/>
<rect x="188" y="297" width="1" height="8" fill="#000"/>
<rect x="186" y="297" width="5" height="1" fill="#000"/>
<rect x="196" y="297" width="1" height="83" fill="#000"/>
<rect x="194" y="297" width="5" height="68" fill="#000"/>
<rect x="204" y="327" width="1" height="41" fill="#000"/>
<rect x="202" y="355" width="5" height="9" fill="#000"/>
<rect x="203" y="356" width="3" height="7" fill="#fff"/>
<rect x="212" y="350" width="1" height="20" fill="#000"/>
<rect x="210" y="354" width="5" height="12" fill="#000"/>
<rect x="220" y="353" width="1" height="32" fill="#000"/>
<rect x="218" y="366" width="5" height="5" fill="#000"/>
<rect x="228" y="370" width="1" height="17" fill="#000"/>
<rect x="226" y="370" width="5" height="10" fill="#000"/>
<rect x="236" y="394" width="1" height="32" fill="#000"/>
<rect x="234" y="403" width="5" height="14" fill="#000"/>
<rect x="244" y="416" width="1" height="60" fill="#000"/>
<rect x="242" y="419" width="5" height="46" fill="#000"/>
<rect x="252" y="426" width="1" height="54" fill="#000"/>
<rect x="250" y="456" width="5" height="8" fill="#000"/>
<rect x="251" y="457" width="3" height="6" fill="#fff"/>
<rect x="260" y="409" width="1" height="61" fill="#000"/>
<rect x="258" y="423" width="5" height="33" fill="#000"/>
<rect x="259" y="424" width="3" height="31" fill="#fff"/>
<rect x="268" y="418" width="1" height="52" fill="#000"/>
<rect x="266" y="422" width="5" height="39" fill="#000"/>
<rect x="276" y="457" width="1" height="21" fill="#000"/>
<rect x="274" y="460" width="5" height="3" fill="#000"/>
<rect x="284" y="480" width="1" height="38" fill="#000"/>
<rect x="282" y="493" width="5" height="1" fill="#000"/>
<rect x="292" y="437" width="1" height="54" fill="#000"/>
<rect x="290" y="476" width="5" height="15" fill="#000"/>
<rect x="291" y="477" width="3" height="13" fill="#fff"/>
<rect x="300" y="475" width="1" height="64" fill="#000"/>
<rect x="298" y="475" width="5" height="57" fill="#000"/>
<rect x="308" y="507" width="1" height="33" fill="#000"/>
<rect x="306" y="524" width="5" height="3" fill="#000"/>
<rect x="307" y="525" width="3" height="1" fill="#fff"/>
<rect x="316" y="519" width="1" height="43" fill="#000"/>
<rect x="314" y="525" width="5" height="9" fill="#000"/>
<rect x="324" y="486" width="1" height="51" fill="#000"/>
<rect x="322" y="534" width="5" height="1" fill="#000"/>
<rect x="332" y="513" width="1" height="24" fill="#000"/>
<rect x="330" y="521" width="5" height="14" fill="#000"/>
<rect x="331" y="522" width="3" height="12" fill="#fff"/>
<rect x="340" y="495" width="1" height="36" fill="#000"/>
<rect x="338" y="521" width="5" height="8" fill="#000"/>
<rect x="348" y="494" width="1" height="54" fill="#000"/>
<rect x="346" y="502" width="5" height="26" fill="#000"/>
<rect x="347" y="503" width="3" height="24" fill="#fff"/>
<rect x="356" y="480" width="1" height="30" fill="#000"/>
<rect x="354" y="497" width="5" height="5" fill="#000"/>
<rect x="355" y="498" width="3" height="3" fill="#fff"/>
<rect x="364" y="453" width="1" height="45" fill="#000"/>
<rect x="362" y="464" width="5" height="33" fill="#000"/>
<rect x="363" y="465" width="3" height="31" fill="#fff"/>
<rect x="372" y="450" width="1" height="17" fill="#000"/>
<rect x="370" y="453" width="5" height="11" fill="#000"/>
<rect x="371" y="454" width="3" height="9" fill="#fff"/>
<rect x="380" y="451" width="1" height="13" fill="#000"/>
<rect x="378" y="455" width="5" height="5" fill="#000"/>
<rect x="388" y="419" width="1" height="44" fill="#000"/>
<rect x="386" y="425" width="5" height="34" fill="#000"/>
<rect x="387" y="426" width="3" height="32" fill="#fff"/>
<rect x="396" y="409" width="1" height="40" fill="#000"/>
<rect x="394" y="424" width="5" height="23" fill="#000"/>
<rect x="404" y="445" width="1" height="23" fill="#000"/>
<rect x="402" y="447" width="5" height="10" fill="#000"/>
<rect x="412" y="444" width="1" height="38" fill="#000"/>
<rect x="410" y="456" width="5" height="16" fill="#000"/>
<rect x="420" y="448" width="1" height="28" fill="#000"/>
<rect x="418" y="471" width="5" height="4" fill="#000"/>
<rect x="428" y="443" width="1" height="18" fill="#000"/>
<rect x="426" y="454" width="5" height="5" fill="#000"/>
<rect x="436" y="449" width="1" height="62" fill="#000"/>
<rect x="434" y="452" width="5" height="48" fill="#000"/>
<rect x="444" y="447" width="1" height="62" fill="#000"/>
<rect x="442" y="459" width="5" height="40" fill="#000"/>
<rect x="443" y="460" width="3" height="38" fill="#fff"/>
<rect x="452" y="411" width="1" height="49" fill="#000"/>
<rect x="450" y="454" width="5" height="6" fill="#000"/>
<rect x="451" y="455" width="3" height="4" fill="#fff"/>
<rect x="460" y="450" width="1" height="29" fill="#000"/>
<rect x="458" y="453" width="5" height="26" fill="#000"/>
<rect x="468" y="475" width="1" height="13" fill="#000"/>
<rect x="466" y="478" width="5" height="8" fill="#000"/>
<rect x="476" y="435" width="1" height="36" fill="#000"/>
<rect x="474" y="456" width="5" height="15" fill="#000"/>
<rect x="475" y="457" width="3" height="13" fill="#fff"/>
<rect x="484" y="426" width="1" height="43" fill="#000"/>
<rect x="482" y="460" width="5" height="5" fill="#000"/>
<rect x="492" y="445" width="1" height="31" fill="#000"/>
<rect x="490" y="451" width="5" height="13" fill="#000"/>
<rect x="491" y="452" width="3" height="11" fill="#fff"/>
<rect x="500" y="443" width="1" height="24" fill="#000"/>
<rect x="498" y="447" width="5" height="5" fill="#000"/>
<rect x="499" y="448" width="3" height="3" fill="#fff"/>
<rect x="508" y="445" width="1" height="37" fill="#000"/>
<rect x="506" y="447" width="5" height="30" fill="#000"/>
<rect x="516" y="466" width="1" height="14" fill="#000"/>
<rect x="514" y="468" width="5" height="9" fill="#000"/>
<rect x="515" y="469" width="3" height="7" fill="#fff"/>
<rect x="524" y="461" width="1" height="18" fill="#000"/>
<rect x="522" y="463" width="5" height="16" fill="#000"/>
<rect x="532" y="451" width="1" height="29" fill="#000"/>
<rect x="530" y="457" width="5" height="20" fill="#000"/>
<rect x="531" y="458" width="3" height="18" fill="#fff"/>
<rect x="540" y="454" width="1" height="42" fill="#000"/>
<rect x="538" y="456" width="5" height="23" fill="#000"/>
<rect x="548" y="450" width="1" height="34" fill="#000"/>
<rect x="546" y="453" width="5" height="25" fill="#000"/>
<rect x="547" y="454" width="3" height="23" fill="#fff"/>
<rect x="556" y="434" width="1" height="25" fill="#000"/>
<rect x="554" y="438" width="5" height="15" fill="#000"/>
<rect x="555" y="439" width="3" height="13" fill="#fff"/>
<rect x="564" y="416" width="1" height="22" fill="#000"/>
<rect x="562" y="417" width="5" height="21" fill="#000"/>
<rect x="563" y="418" width="3" height="19" fill="#fff"/>
<rect x="572" y="417" width="1" height="26" fill="#000"/>
<rect x="570" y="420" width="5" height="17" fill="#000"/>
<rect x="580" y="404" width="1" height="45" fill="#000"/>
<rect x="578" y="419" width="5" height="17" fill="#000"/>
<rect x="579" y="420" width="3" height="15" fill="#fff"/>
<rect x="588" y="375" width="1" height="51" fill="#000"/>
<rect x="586" y="375" width="5" height="43" fill="#000"/>
<rect x="587" y="376" width="3" height="41" fill="#fff"/>
<rect x="596" y="350" width="1" height="32" fill="#000"/>
<rect x="594" y="366" width="5" height="9" fill="#000"/>
<rect x="595" y="367" width="3" height="7" fill="#fff"/>
<rect x="604" y="361" width="1" height="36" fill="#000"/>
<rect x="602" y="364" width="5" height="2" fill="#000"/>
<rect x="612" y="333" width="1" height="35" fill="#000"/>
<rect x="610" y="333" width="5" height="35" fill="#000"/>
<rect x="611" y="334" width="3" height="33" fill="#fff"/>
<rect x="620" y="317" width="1" height="25" fill="#000"/>
<rect x="618" y="320" width="5" height="17" fill="#000"/>
<rect x="619" y="321" width="3" height="15" fill="#fff"/>
<rect x="628" y="293" width="1" height="39" fill="#000"/>
<rect x="626" y="309" width="5" height="13" fill="#000"/>
<rect x="627" y="310" width="3" height="11" fill="#fff"/>
<rect x="636" y="285" width="1" height="33" fill="#000"/>
<rect x="634" y="304" width="5" height="6" fill="#000"/>
<rect x="635" y="305" width="3" height="4" fill="#fff"/>
<rect x="644" y="297" width="1" height="21" fill="#000"/>
<rect x="642" y="304" width="5" height="13" fill="#000"/>
<rect x="652" y="289" width="1" height="29" fill="#000"/>
<rect x="650" y="292" width="5" height="26" fill="#000"/>
<rect x="651" y="293" width="3" height="24" fill="#fff"/>
<rect x="660" y="283" width="1" height="18" fill="#000"/>
<rect x="658" y="291" width="5" height="8" fill="#000"/>
<rect x="668" y="298" width="1" height="11" fill="#000"/>
<rect x="666" y="301" width="5" height="6" fill="#000"/>
<rect x="676" y="282" width="1" height="26" fill="#000"/>
<rect x="674" y="292" width="5" height="9" fill="#000"/>
<rect x="675" y="293" width="3" height="7" fill="#fff"/>
<rect x="684" y="258" width="1" height="35" fill="#000"/>
<rect x="682" y="267" width="5" height="26" fill="#000"/>
<rect x="683" y="268" width="3" height="24" fill="#fff"/>
<rect x="692" y="235" width="1" height="42" fill="#000"/>
<rect x="690" y="242" width="5" height="27" fill="#000"/>
<rect x="691" y="243" width="3" height="25" fill="#fff"/>
<rect x="700" y="223" width="1" height="24" fill="#000"/>
<rect x="698" y="225" width="5" height="18" fill="#000"/>
<rect x="699" y="226" width="3" height="16" fill="#fff"/>
<rect x="708" y="215" width="1" height="12" fill="#000"/>
<rect x="706" y="220" width="5" height="7" fill="#000"/>
<rect x="707" y="221" width="3" height="5" fill="#fff"/>
<rect x="716" y="214" width="1" height="13" fill="#000"/>
<rect x="714" y="219" width="5" height="2" fill="#000"/>
<rect x="724" y="211" width="1" height="21" fill="#000"/>
<rect x="722" y="218" width="5" height="9" fill="#000"/>
<rect x="732" y="220" width="1" height="17" fill="#000"/>
<rect x="730" y="227" width="5" height="1" fill="#000"/>
<rect x="740" y="207" width="1" height="28" fill="#000"/>
<rect x="738" y="220" width="5" height="8" fill="#000"/>
<rect x="739" y="221" width="3" height="6" fill="#fff"/>
<rect x="748" y="209" width="1" height="27" fill="#000"/>
<rect x="746" y="219" width="5" height="3" fill="#000"/>
<rect x="747" y="220" width="3" height="1" fill="#fff"/>
<rect x="756" y="213" width="1" height="17" fill="#000"/>
<rect x="754" y="214" width="5" height="6" fill="#000"/>
<rect x="755" y="215" width="3" height="4" fill="#fff"/>
<rect x="764" y="216" width="1" height="18" fill="#000"/>
<rect x="762" y="216" width="5" height="18" fill="#000"/>
<rect x="772" y="216" width="1" height="25" fill="#000"/>
<rect x="770" y="225" width="5" height="12" fill="#000"/>
<rect x="771" y="226" width="3" height="10" fill="#fff"/>
<rect x="780" y="186" width="1" height="47" fill="#000"/>
<rect x="778" y="187" width="5" height="39" fill="#000"/>
<rect x="779" y="188" width="3" height="37" fill="#fff"/>
<rect x="788" y="168" width="1" height="25" fill="#000"/>
<rect x="786" y="171" width="5" height="16" fill="#000"/>
<rect x="787" y="172" width="3" height="14" fill="#fff"/>
<rect x="796" y="170" width="1" height="15" fill="#000"/>
<rect x="794" y="170" width="5" height="5" fill="#000"/>
<rect x="804" y="164" width="1" height="12" fill="#000"/>
<rect x="802" y="170" width="5" height="5" fill="#000"/>
<rect x="803" y="171" width="3" height="3" fill="#fff"/>
<rect x="812" y="166" width="1" height="8" fill="#000"/>
<rect x="810" y="169" width="5" height="1" fill="#000"/>
<rect x="820" y="122" width="1" height="50" fill="#000"/>
<rect x="818" y="136" width="5" height="35" fill="#000"/>
<rect x="819" y="137" width="3" height="33" fill="#fff"/>
<rect x="828" y="117" width="1" height="38" fill="#000"/>
<rect x="826" y="136" width="5" height="15" fill="#000"/>
<rect x="836" y="150" width="1" height="25" fill="#000"/>
<rect x="834" y="151" width="5" height="13" fill="#000"/>
<rect x="844" y="150" width="1" height="26" fill="#000"/>
<rect x="842" y="163" width="5" height="3" fill="#000"/>
<rect x="852" y="165" width="1" height="17" fill="#000"/>
<rect x="850" y="165" width="5" height="14" fill="#000"/>
<rect x="860" y="167" width="1" height="10" fill="#000"/>
<rect x="858" y="174" width="5" height="2" fill="#000"/>
<rect x="868" y="143" width="1" height="35" fill="#000"/>
<rect x="866" y="145" width="5" height="29" fill="#000"/>
<rect x="867" y="146" width="3" height="27" fill="#fff"/>
<rect x="876" y="108" width="1" height="41" fill="#000"/>
<rect x="874" y="121" width="5" height="23" fill="#000"/>
<rect x="875" y="122" width="3" height="21" fill="#fff"/>
<rect x="884" y="112" width="1" height="17" fill="#000"/>
<rect x="882" y="120" width="5" height="1" fill="#000"/>
<rect x="892" y="94" width="1" height="31" fill="#000"/>
<rect x="890" y="96" width="5" height="25" fill="#000"/>
<rect x="891" y="97" width="3" height="23" fill="#fff"/>
<rect x="900" y="83" width="1" height="19" fill="#000"/>
<rect x="898" y="83" width="5" height="14" fill="#000"/>
<rect x="899" y="84" width="3" height="12" fill="#fff"/>
<rect x="908" y="88" width="1" height="9" fill="#000"/>
<rect x="906" y="90" width="5" height="3" fill="#000"/>
<rect x="907" y="91" width="3" height="1" fill="#fff"/>
<rect x="916" y="87" width="1" height="51" fill="#000"/>
<rect x="914" y="90" width="5" height="38" fill="#000"/>
<rect x="924" y="107" width="1" height="23" fill="#000"/>
<rect x="922" y="111" width="5" height="17" fill="#000"/>
<rect x="923" y="112" width="3" height="15" fill="#fff"/>
<rect x="932" y="93" width="1" height="20" fill="#000"/>
<rect x="930" y="98" width="5" height="14" fill="#000"/>
<rect x="931" y="99" width="3" height="12" fill="#fff"/>
<rect x="940" y="95" width="1" height="36" fill="#000"/>
<rect x="938" y="97" width="5" height="2" fill="#000"/>
<rect x="948" y="94" width="1" height="17" fill="#000"/>
<rect x="946" y="95" width="5" height="3" fill="#000"/>
<rect x="947" y="96" width="3" height="1" fill="#fff"/>
<rect x="956" y="102" width="1" height="18" fill="#000"/>
<rect x="954" y="103" width="5" height="17" fill="#000"/>
<rect x="964" y="118" width="1" height="37" fill="#000"/>
<rect x="962" y="121" width="5" height="7" fill="#000"/>
<rect x="972" y="100" width="1" height="45" fill="#000"/>
<rect x="970" y="111" width="5" height="17" fill="#000"/>
<rect x="971" y="112" width="3" height="15" fill="#fff"/>
<rect x="980" y="105" width="1" height="21" fill="#000"/>
<rect x="978" y="111" width="5" height="7" fill="#000"/>
<rect x="988" y="112" width="1" height="26" fill="#000"/>
<rect x="986" y="113" width="5" height="4" fill="#000"/>
<rect x="987" y="114" width="3" height="2" fill="#fff"/>
<rect x="996" y="96" width="1" height="20" fill="#000"/>
<rect x="994" y="100" width="5" height="14" fill="#000"/>
<rect x="995" y="101" width="3" height="12" fill="#fff"/>
<rect x="1004" y="97" width="1" height="18" fill="#000"/>
<rect x="1002" y="102" width="5" height="11" fill="#000"/>
<rect x="1012" y="101" width="1" height="26" fill="#000"/>
<rect x="1010" y="111" width="5" height="9" fill="#000"/>
<rect x="1020" y="79" width="1" height="42" fill="#000"/>
<rect x="1018" y="82" width="5" height="39" fill="#000"/>
<rect x="1019" y="83" width="3" height="37" fill="#fff"/>
<rect x="1028" y="49" width="1" height="43" fill="#000"/>
<rect x="1026" y="76" width="5" height="6" fill="#000"/>
<rect x="1027" y="77" width="3" height="4" fill="#fff"/>
<rect x="1036" y="64" width="1" height="24" fill="#000"/>
<rect x="1034" y="65" width="5" height="11" fill="#000"/>
<rect x="1035" y="66" width="3" height="9" fill="#fff"/>
<rect x="1044" y="57" width="1" height="11" fill="#000"/>
<rect x="1042" y="64" width="5" height="2" fill="#000"/>
<rect x="1052" y="61" width="1" height="14" fill="#000"/>
<rect x="1050" y="65" width="5" height="6" fill="#000"/>
<rect x="1051" y="66" width="3" height="4" fill="#fff"/>
<rect x="1060" y="65" width="1" height="67" fill="#000"/>
<rect x="1058" y="68" width="5" height="55" fill="#000"/>
<rect x="1068" y="97" width="1" height="39" fill="#000"/>
<rect x="1066" y="111" width="5" height="13" fill="#000"/>
<rect x="1067" y="112" width="3" height="11" fill="#fff"/>
<rect x="1076" y="99" width="1" height="22" fill="#000"/>
<rect x="1074" y="101" width="5" height="10" fill="#000"/>
<rect x="1075" y="102" width="3" height="8" fill="#fff"/>
<rect x="1084" y="101" width="1" height="27" fill="#000"/>
<rect x="1082" y="101" width="5" height="27" fill="#000"/>
<rect x="1092" y="121" width="1" height="22" fill="#000"/>
<rect x="1090" y="121" width="5" height="6" fill="#000"/>
<rect x="1091" y="122" width="3" height="4" fill="#fff"/>
<rect x="1100" y="128" width="1" height="13" fill="#000"/>
<rect x="1098" y="129" width="5" height="7" fill="#000"/>
<rect x="1108" y="88" width="1" height="46" fill="#000"/>
<rect x="1106" y="115" width="5" height="19" fill="#000"/>
<rect x="1107" y="116" width="3" height="17" fill="#fff"/>
<rect x="1116" y="104" width="1" height="28" fill="#000"/>
<rect x="1114" y="115" width="5" height="6" fill="#000"/>
<rect x="1124" y="121" width="1" height="15" fill="#000"/>
<rect x="1122" y="121" width="5" height="8" fill="#000"/>
<rect x="1132" y="123" width="1" height="24" fill="#000"/>
<rect x="1130" y="128" width="5" height="17" fill="#000"/>
<rect x="1140" y="134" width="1" height="26" fill="#000"/>
<rect x="1138" y="144" width="5" height="12" fill="#000"/>
<rect x="1148" y="144" width="1" height="11" fill="#000"/>
<rect x="1146" y="153" width="5" height="1" fill="#000"/>
<rect x="1156" y="132" width="1" height="45" fill="#000"/>
<rect x="1154" y="138" width="5" height="12" fill="#000"/>
<rect x="1155" y="139" width="3" height="10" fill="#fff"/>
<rect x="1164" y="124" width="1" height="24" fill="#000"/>
<rect x="1162" y="131" width="5" height="6" fill="#000"/>
<rect x="1163" y="132" width="3" height="4" fill="#fff"/>
<rect x="1172" y="117" width="1" height="17" fill="#000"/>
<rect x="1170" y="123" width="5" height="9" fill="#000"/>
<rect x="1171" y="124" width="3" height="7" fill="#fff"/>
<rect x="1180" y="120" width="1" height="33" fill="#000"/>
<rect x="1178" y="123" width="5" height="13" fill="#000"/>
<rect x="1188" y="123" width="1" height="25" fill="#000"/>
<rect x="1186" y="135" width="5" height="2" fill="#000"/>
<rect x="1196" y="142" width="1" height="13" fill="#000"/>
<rect x="1194" y="144" width="5" height="1" fill="#000"/>
<rect x="1204" y="132" width="1" height="23" fill="#000"/>
<rect x="1202" y="139" width="5" height="4" fill="#000"/>
<rect x="1203" y="140" width="3" height="2" fill="#fff"/>
<rect x="1212" y="127" width="1" height="19" fill="#000"/>
<rect x="1210" y="133" width="5" height="7" fill="#000"/>
<rect x="1211" y="134" width="3" height="5" fill="#fff"/>
<rect x="1220" y="107" width="1" height="29" fill="#000"/>
<rect x="1218" y="110" width="5" height="24" fill="#000"/>
<rect x="1219" y="111" width="3" height="22" fill="#fff"/>
<rect x="1228" y="100" width="1" height="11" fill="#000"/>
<rect x="1226" y="100" width="5" height="11" fill="#000"/>
<rect x="1227" y="101" width="3" height="9" fill="#fff"/>
<rect x="1236" y="97" width="1" height="9" fill="#000"/>
<rect x="1234" y="100" width="5" height="4" fill="#000"/>
<rect x="1244" y="103" width="1" height="11" fill="#000"/>
<rect x="1242" y="106" width="5" height="6" fill="#000"/>
<rect x="1243" y="107" width="3" height="4" fill="#fff"/>
<rect x="1252" y="105" width="1" height="39" fill="#000"/>
<rect x="1250" y="107" width="5" height="27" fill="#000"/>
<rect x="1260" y="115" width="1" height="23" fill="#000"/>
<rect x="1258" y="132" width="5" height="2" fill="#000"/>
<rect x="1268" y="131" width="1" height="26" fill="#000"/>
<rect x="1266" y="133" width="5" height="15" fill="#000"/>
<rect x="1276" y="145" width="1" height="19" fill="#000"/>
<rect x="1274" y="148" width="5" height="7" fill="#000"/>
<rect x="1284" y="154" width="1" height="18" fill="#000"/>
<rect x="1282" y="155" width="5" height="6" fill="#000"/>
<rect x="1292" y="155" width="1" height="12" fill="#000"/>
<rect x="1290" y="159" width="5" height="6" fill="#000"/>
<rect x="1300" y="160" width="1" height="36" fill="#000"/>
<rect x="1298" y="164" width="5" height="29" fill="#000"/>
<rect x="1308" y="167" width="1" height="29" fill="#000"/>
<rect x="1306" y="191" width="5" height="4" fill="#000"/>
<rect x="1316" y="195" width="1" height="31" fill="#000"/>
<rect x="1314" y="195" width="5" height="21" fill="#000"/>
<rect x="1324" y="196" width="1" height="30" fill="#000"/>
<rect x="1322" y="204" width="5" height="12" fill="#000"/>
<rect x="1323" y="205" width="3" height="10" fill="#fff"/>
<rect x="1332" y="194" width="1" height="23" fill="#000"/>
<rect x="1330" y="204" width="5" height="8" fill="#000"/>
<rect x="1340" y="216" width="1" height="16" fill="#000"/>
<rect x="1338" y="216" width="5" height="14" fill="#000"/>
<rect x="1348" y="228" width="1" height="24" fill="#000"/>
<rect x="1346" y="231" width="5" height="13" fill="#000"/>
<rect x="1356" y="211" width="1" height="36" fill="#000"/>
<rect x="1354" y="212" width="5" height="32" fill="#000"/>
<rect x="1355" y="213" width="3" height="30" fill="#fff"/>
<rect x="1364" y="199" width="1" height="41" fill="#000"/>
<rect x="1362" y="213" width="5" height="22" fill="#000"/>
<rect x="1372" y="206" width="1" height="37" fill="#000"/>
<rect x="1370" y="209" width="5" height="25" fill="#000"/>
<rect x="1371" y="210" width="3" height="23" fill="#fff"/>
<rect x="1380" y="198" width="1" height="25" fill="#000"/>
<rect x="1378" y="205" width="5" height="14" fill="#000"/>
</g>
<rect x="4" y="658" width="1" height="7" fill="#c0c0c0"/>
<rect x="12" y="658" width="1" height="4" fill="#c0c0c0"/>
<rect x="20" y="658" width="1" height="1" fill="#c0c0c0"/>
<rect x="28" y="657" width="1" height="2" fill="#c0c0c0"/>
<rect x="36" y="656" width="1" height="3" fill="#c0c0c0"/>
<rect x="44" y="653" width="1" height="6" fill="#c0c0c0"/>
<rect x="52" y="649" width="1" height="10" fill="#c0c0c0"/>
<rect x="60" y="649" width="1" height="10" fill="#c0c0c0"/>
<rect x="68" y="649" width="1" height="10" fill="#c0c0c0"/>
<rect x="76" y="653" width="1" height="6" fill="#c0c0c0"/>
<rect x="84" y="657" width="1" height="2" fill="#c0c0c0"/>
<rect x="92" y="658" width="1" height="1" fill="#c0c0c0"/>
<rect x="100" y="658" width="1" height="3" fill="#c0c0c0"/>
<rect x="108" y="658" width="1" height="4" fill="#c0c0c0"/>
<rect x="116" y="658" width="1" height="3" fill="#c0c0c0"/>
<rect x="124" y="658" width="1" height="1" fill="#c0c0c0"/>
<rect x="132" y="658" width="1" height="1" fill="#c0c0c0"/>
<rect x="140" y="658" width="1" height="1" fill="#c0c0c0"/>
<rect x="148" y="657" width="1" height="2" fill="#c0c0c0"/>
<rect x="156" y="658" width="1" height="1" fill="#c0c0c0"/>
<rect x="164" y="658" width="1" height="1" fill="#c0c0c0"/>
<rect x="172" y="658" width="1" height="1" fill="#c0c0c0"/>
<rect x="180" y="658" width="1" height="5" fill="#c0c0c0"/>
<rect x="188" y="658" width="1" height="5" fill="#c0c0c0"/>
<rect x="196" y="658" width="1" height="13" fill="#c0c0c0"/>
<rect x="204" y="658" width="1" height="18" fill="#c0c0c0"/>
<rect x="212" y="658" width="1" height="23" fill="#c0c0c0"/>
<rect x="220" y="658" width="1" height="27" fill="#c0c0c0"/>
<rect x="228" y="658" width="1" height="31" fill="#c0c0c0"/>
<rect x="236" y="658" width="1" height="38" fill="#c0c0c0"/>
<rect x="244" y="658" width="1" height="48" fill="#c0c0c0"/>
<rect x="252" y="658" width="1" height="54" fill="#c0c0c0"/>
<rect x="260" y="658" width="1" height="55" fill="#c0c0c0"/>
<rect x="268" y="658" width="1" height="59" fill="#c0c0c0"/>
<rect x="276" y="658" width="1" height="62" fill="#c0c0c0"/>
<rect x="284" y="658" width="1" height="67" fill="#c0c0c0"/>
<rect x="292" y="658" width="1" height="68" fill="#c0c0c0"/>
<rect x="300" y="658" width="1" height="74" fill="#c0c0c0"/>
<rect x="308" y="658" width="1" height="77" fill="#c0c0c0"/>
<rect x="316" y="658" width="1" height="80" fill="#c0c0c0"/>
<rect x="324" y="658" width="1" height="81" fill="#c0c0c0"/>
<rect x="332" y="658" width="1" height="80" fill="#c0c0c0"/>
<rect x="340" y="658" width="1" height="78" fill="#c0c0c0"/>
<rect x="348" y="658" width="1" height="74" fill="#c0c0c0"/>
<rect x="356" y="658" width="1" height="69" fill="#c0c0c0"/>
<rect x="364" y="658" width="1" height="60" fill="#c0c0c0"/>
<rect x="372" y="658" width="1" height="52" fill="#c0c0c0"/>
<rect x="380" y="658" width="1" height="45" fill="#c0c0c0"/>
<rect x="388" y="658" width="1" height="36" fill="#c0c0c0"/>
<rect x="396" y="658" width="1" height="31" fill="#c0c0c0"/>
<rect x="404" y="658" width="1" height="27" fill="#c0c0c0"/>
<rect x="412" y="658" width="1" height="26" fill="#c0c0c0"/>
<rect x="420" y="658" width="1" height="25" fill="#c0c0c0"/>
<rect x="428" y="658" width="1" height="22" fill="#c0c0c0"/>
<rect x="436" y="658" width="1" height="23" fill="#c0c0c0"/>
<rect x="444" y="658" width="1" height="21" fill="#c0c0c0"/>
<rect x="452" y="658" width="1" height="18" fill="#c0c0c0"/>
<rect x="460" y="658" width="1" height="18" fill="#c0c0c0"/>
<rect x="468" y="658" width="1" height="18" fill="#c0c0c0"/>
<rect x="476" y="658" width="1" height="15" fill="#c0c0c0"/>
<rect x="484" y="658" width="1" height="13" fill="#c0c0c0"/>
<rect x="492" y="658" width="1" height="10" fill="#c0c0c0"/>
<rect x="500" y="658" width="1" height="8" fill="#c0c0c0"/>
<rect x="508" y="658" width="1" height="9" fill="#c0c0c0"/>
<rect x="516" y="658" width="1" height="9" fill="#c0c0c0"/>
<rect x="524" y="658" width="1" height="9" fill="#c0c0c0"/>
<rect x="532" y="658" width="1" height="7" fill="#c0c0c0"/>
<rect x="540" y="658" width="1" height="8" fill="#c0c0c0"/>
<rect x="548" y="658" width="1" height="6" fill="#c0c0c0"/>
<rect x="556" y="658" width="1" height="3" fill="#c0c0c0"/>
<rect x="564" y="657" width="1" height="2" fill="#c0c0c0"/>
<rect x="572" y="655" width="1" height="4" fill="#c0c0c0"/>
<rect x="580" y="652" width="1" height="7" fill="#c0c0c0"/>
<rect x="588" y="644" width="1" height="15" fill="#c0c0c0"/>
<rect x="596" y="638" width="1" height="21" fill="#c0c0c0"/>
<rect x="604" y="633" width="1" height="26" fill="#c0c0c0"/>
<rect x="612" y="626" width="1" height="33" fill="#c0c0c0"/>
<rect x="620" y="620" width="1" height="39" fill="#c0c0c0"/>
<rect x="628" y="614" width="1" height="45" fill="#c0c0c0"/>
<rect x="636" y="609" width="1" height="50" fill="#c0c0c0"/>
<rect x="644" y="607" width="1" height="52" fill="#c0c0c0"/>
<rect x="652" y="604" width="1" height="55" fill="#c0c0c0"/>
<rect x="660" y="603" width="1" height="56" fill="#c0c0c0"/>
<rect x="668" y="603" width="1" height="56" fill="#c0c0c0"/>
<rect x="676" y="603" width="1" height="56" fill="#c0c0c0"/>
<rect x="684" y="600" width="1" height="59" fill="#c0c0c0"/>
<rect x="692" y="596" width="1" height="63" fill="#c0c0c0"/>
<rect x="700" y="592" width="1" height="67" fill="#c0c0c0"/>
<rect x="708" y="589" width="1" height="70" fill="#c0c0c0"/>
<rect x="716" y="587" width="1" height="72" fill="#c0c0c0"/>
<rect x="724" y="587" width="1" height="72" fill="#c0c0c0"/>
<rect x="732" y="589" width="1" height="70" fill="#c0c0c0"/>
<rect x="740" y="589" width="1" height="70" fill="#c0c0c0"/>
<rect x="748" y="591" width="1" height="68" fill="#c0c0c0"/>
<rect x="756" y="592" width="1" height="67" fill="#c0c0c0"/>
<rect x="764" y="596" width="1" height="63" fill="#c0c0c0"/>
<rect x="772" y="599" width="1" height="60" fill="#c0c0c0"/>
<rect x="780" y="598" width="1" height="61" fill="#c0c0c0"/>
<rect x="788" y="596" width="1" height="63" fill="#c0c0c0"/>
<rect x="796" y="595" width="1" height="64" fill="#c0c0c0"/>
<rect x="804" y="594" width="1" height="65" fill="#c0c0c0"/>
<rect x="812" y="596" width="1" height="63" fill="#c0c0c0"/>
<rect x="820" y="593" width="1" height="66" fill="#c0c0c0"/>
<rect x="828" y="594" width="1" height="65" fill="#c0c0c0"/>
<rect x="836" y="596" width="1" height="63" fill="#c0c0c0"/>
<rect x="844" y="599" width="1" height="60" fill="#c0c0c0"/>
<rect x="852" y="603" width="1" height="56" fill="#c0c0c0"/>
<rect x="860" y="607" width="1" height="52" fill="#c0c0c0"/>
<rect x="868" y="607" width="1" height="52" fill="#c0c0c0"/>
<rect x="876" y="605" width="1" height="54" fill="#c0c0c0"/>
<rect x="884" y="605" width="1" height="54" fill="#c0c0c0"/>
<rect x="892" y="602" width="1" height="57" fill="#c0c0c0"/>
<rect x="900" y="599" width="1" height="60" fill="#c0c0c0"/>
<rect x="908" y="598" width="1" height="61" fill="#c0c0c0"/>
<rect x="916" y="602" width="1" height="57" fill="#c0c0c0"/>
<rect x="924" y="604" width="1" height="55" fill="#c0c0c0"/>
<rect x="932" y="605" width="1" height="54" fill="#c0c0c0"/>
<rect x="940" y="606" width="1" height="53" fill="#c0c0c0"/>
<rect x="948" y="608" width="1" height="51" fill="#c0c0c0"/>
<rect x="956" y="612" width="1" height="47" fill="#c0c0c0"/>
<rect x="964" y="617" width="1" height="42" fill="#c0c0c0"/>
<rect x="972" y="619" width="1" height="40" fill="#c0c0c0"/>
<rect x="980" y="622" width="1" height="37" fill="#c0c0c0"/>
<rect x="988" y="625" width="1" height="34" fill="#c0c0c0"/>
<rect x="996" y="625" width="1" height="34" fill="#c0c0c0"/>
<rect x="1004" y="628" width="1" height="31" fill="#c0c0c0"/>
<rect x="1012" y="631" width="1" height="28" fill="#c0c0c0"/>
<rect x="1020" y="629" width="1" height="30" fill="#c0c0c0"/>
<rect x="1028" y="628" width="1" height="31" fill="#c0c0c0"/>
<rect x="1036" y="626" width="1" height="33" fill="#c0c0c0"/>
<rect x="1044" y="626" width="1" height="33" fill="#c0c0c0"/>
<rect x="1052" y="624" width="1" height="35" fill="#c0c0c0"/>
<rect x="1060" y="631" width="1" height="28" fill="#c0c0c0"/>
<rect x="1068" y="635" width="1" height="24" fill="#c0c0c0"/>
<rect x="1076" y="637" width="1" height="22" fill="#c0c0c0"/>
<rect x="1084" y="642" width="1" height="17" fill="#c0c0c0"/>
<rect x="1092" y="645" width="1" height="14" fill="#c0c0c0"/>
<rect x="1100" y="650" width="1" height="9" fill="#c0c0c0"/>
<rect x="1108" y="651" width="1" height="8" fill="#c0c0c0"/>
<rect x="1116" y="653" width="1" height="6" fill="#c0c0c0"/>
<rect x="1124" y="655" width="1" height="4" fill="#c0c0c0"/>
<rect x="1132" y="658" width="1" height="1" fill="#c0c0c0"/>
<rect x="1140" y="658" width="1" height="3" fill="#c0c0c0"/>
<rect x="1148" y="658" width="1" height="6" fill="#c0c0c0"/>
<rect x="1156" y="658" width="1" height="6" fill="#c0c0c0"/>
<rect x="1164" y="658" width="1" height="6" fill="#c0c0c0"/>
<rect x="1172" y="658" width="1" height="5" fill="#c0c0c0"/>
<rect x="1180" y="658" width="1" height="5" fill="#c0c0c0"/>
<rect x="1188" y="658" width="1" height="6" fill="#c0c0c0"/>
<rect x="1196" y="658" width="1" height="6" fill="#c0c0c0"/>
<rect x="1204" y="658" width="1" height="6" fill="#c0c0c0"/>
<rect x="1212" y="658" width="1" height="5" fill="#c0c0c0"/>
<rect x="1220" y="658" width="1" height="3" fill="#c0c0c0"/>
<rect x="1228" y="658" width="1" height="1" fill="#c0c0c0"/>
<rect x="1236" y="656" width="1" height="3" fill="#c0c0c0"/>
<rect x="1244" y="655" width="1" height="4" fill="#c0c0c0"/>
<rect x="1252" y="657" width="1" height="2" fill="#c0c0c0"/>
<rect x="1260" y="658" width="1" height="1" fill="#c0c0c0"/>
<rect x="1268" y="658" width="1" height="2" fill="#c0c0c0"/>
<rect x="1276" y="658" width="1" height="5" fill="#c0c0c0"/>
<rect x="1284" y="658" width="1" height="7" fill="#c0c0c0"/>
<rect x="1292" y="658" width="1" height="10" fill="#c0c0c0"/>
<rect x="1300" y="658" width="1" height="15" fill="#c0c0c0"/>
<rect x="1308" y="658" width="1" height="19" fill="#c0c0c0"/>
<rect x="1316" y="658" width="1" height="24" fill="#c0c0c0"/>
<rect x="1324" y="658" width="1" height="26" fill="#c0c0c0"/>
<rect x="1332" y="658" width="1" height="29" fill="#c0c0c0"/>
<rect x="1340" y="658" width="1" height="31" fill="#c0c0c0"/>
<rect x="1348" y="658" width="1" height="36" fill="#c0c0c0"/>
<rect x="1356" y="658" width="1" height="36" fill="#c0c0c0"/>
<rect x="1364" y="658" width="1" height="36" fill="#c0c0c0"/>
<rect x="1372" y="658" width="1" height="34" fill="#c0c0c0"/>
<rect x="1380" y="658" width="1" height="34" fill="#c0c0c0"/>
<path d="M0 0m756 589h3m3 0h3m3 0h1m-23 1h1m3 0h3m16 0h2m3 0h2m-37 1h2m3 0h2m30 0h1m3 0h3m-45 1h1m47 0h3m-57 1h3m57 0h3m3 0h3m3 0h1m-79 1h3m76 0h2m3 0h3m3 0h1m-97 1h3m94 0h2m3 0h3m3 0h3m3 0h3m3 0h3m3 0h3m3 0h3m-140 1h2m-3 1h1m143 0h3m-151 1h1m153 0h3m3 0h2m-164 1h2m162 0h1m3 0h3m-177 1h3m177 0h3m3 0h1m-191 1h1m190 0h2m3 0h3m-201 1h2m202 0h3m3 0h3m3 0h3m3 0h3m3 0h3m3 0h3m3 0h3m3 0h3m3 0h3m-260 1h2m261 0h3m-267 1h1m269 0h3m3 1h1m-283 1h3m280 0h2m3 1h3m-296 1h2m-3 1h1m299 0h1m-305 1h1m304 0h2m-309 1h2m310 0h3m-319 1h1m321 0h1m-325 1h2m323 0h2m3 1h1m-335 1h1m334 0h2m-339 1h2m340 0h1m0 1h2m3 1h1m-354 1h2m352 0h2m-357 1h1m359 0h1m0 1h2m-367 1h1m369 0h3m-374 1h1m376 0h1m-379 1h1m378 0h2m3 1h3m3 0h3m3 0h3m-403 1h1m405 0h3m3 0h3m3 0h3m-423 1h2m424 0h3m3 1h3m-439 1h1m441 0h3m-446 1h1m448 0h3m-453 1h1m455 0h2m0 1h1m-464 2h2m465 0h3m-471 1h1m473 1h2m0 1h1m-481 1h1m483 0h2m-488 1h2m486 0h1m3 1h3m-499 1h1m-2 1h1m502 0h2m-506 1h1m505 0h1m-512 2h2m513 0h3m-519 1h1m521 1h3m-529 2h1m531 0h3m-536 1h1m-2 1h1m539 0h1m0 1h2m-1071 1h3m3 0h3m3 0h3m3 0h3m3 0h3m495 0h3m549 0h1m-1081 1h3m33 0h3m485 0h1m556 0h2m-1089 1h3m45 0h3m477 0h2m-476 1h3m1035 0h3m-1101 1h3m63 0h3m3 0h1m457 0h1m573 0h3m-1113 1h3m76 0h2m3 0h3m3 0h1m23 0h3m3 0h3m3 0h1m407 0h2m580 0h2m-1124 1h3m94 0h2m3 0h3m3 0h3m3 0h3m16 0h2m3 0h3m3 0h2m978 0h1m87 0h3m3 0h3m3 0h3m3 0h3m3 0h3m3 0h3m-1099 1h1m3 0h2m382 0h3m591 0h3m71 0h1m3 0h3m39 0h1m-1254 1h2m155 0h1m377 0h1m603 0h3m57 0h3m3 0h2m47 0h2m3 0h2m-1262 1h1m161 0h3m369 0h2m610 0h3m45 0h3m65 0h1m3 0h1m-739 1h3m621 0h3m28 0h2m3 0h3m76 0h2m-1274 1h2m171 0h2m352 0h3m633 0h3m3 0h3m3 0h3m3 0h3m3 0h1m-1189 1h1m175 0h1m345 0h3m-531 1h3m183 0h2m334 0h3m759 0h1m-1289 1h1m191 0h1m327 0h3m766 0h2m-1293 1h2m196 0h1m317 0h3m-320 1h2m309 0h3m783 0h3m-806 1h2m3 0h3m3 0h3m-512 1h2m207 0h1m281 0h3m3 0h1m809 0h3m-1311 1h1m210 0h1m274 0h3m-277 1h1m269 0h1m831 0h3m-1321 1h1m483 0h2m-487 1h1m220 0h2m256 0h3m843 0h1m-1327 1h1m223 0h1m250 0h2m850 0h2m-855 1h1m-480 1h2m231 0h1m239 0h3m861 0h1m-1339 1h1m234 0h1m228 0h1m3 0h3m868 0h2m-1105 1h1m219 0h3m3 0h2m880 0h1m-1350 1h2m455 0h1m892 0h2m-1353 1h1m245 0h1m209 0h2m898 0h1m-1110 1h1m202 0h3m904 0h2m-1111 1h1m197 1h1m915 0h2m-920 1h2m918 0h1m-1113 1h1m1115 0h2m-1117 1h2m185 0h1m929 0h1m-933 1h2m934 0h3m-1119 1h1m1121 0h1m-1122 1h2m173 0h1m-3 1h2m-170 2h1m163 0h1m-164 1h2m160 0h1m-2 1h1m-157 2h1m151 0h1m-152 1h2m148 0h1m-2 1h1m-145 1h1m0 1h2m137 0h1m-2 1h1m-2 1h1m-133 2h1m127 0h1m-128 1h2m123 0h2m-122 3h1m114 0h2m-116 1h2m111 0h1m-109 2h1m0 1h2m101 0h1m-2 1h1m-98 1h1m95 0h1m-96 1h2m3 2h1m84 0h2m-86 1h2m81 0h1m-79 2h1m0 1h2m71 0h1m-3 1h2m-68 1h2m0 1h1m3 1h2m54 0h1m-55 1h1m51 0h2m-50 1h1m0 1h2m39 0h3m-39 1h3m29 0h1m-27 1h3m21 0h2m-20 1h3m9 0h3m-9 1h3" transform="translate(0 .5)" stroke="#ff0000" stroke-width="1" fill="none"/>
<line x1="1" y1="785.5" x2="1647" y2="785.5" stroke="#c0c0c0" stroke-width="1" stroke-dasharray="3 3"/>
<line x1="1" y1="836.5" x2="1647" y2="836.5" stroke="#c0c0c0" stroke-width="1" stroke-dasharray="3 3"/>
<line x1="1" y1="897.5" x2="1647" y2="897.5" stroke="#c0c0c0" stroke-width="1" stroke-dasharray="3 3"/>
<path d="M0 0m820 783h1m-2 1h1m1 0h1m-4 1h1m2 0h1m-5 1h1m4 0h1m-8 1h2m6 0h1m75 0h2m-196 1h12m97 0h1m9 0h1m72 0h2m2 0h2m-204 1h6m12 0h2m69 0h2m23 0h1m10 0h1m69 0h3m6 0h2m-208 1h2m20 0h2m34 0h2m29 0h2m2 0h3m10 0h10m12 0h1m66 0h2m11 0h1m-212 1h3m24 0h1m29 0h4m1 0h1m27 0h2m7 0h2m4 0h4m23 0h1m63 0h2m14 0h2m-216 1h2m28 0h2m15 0h12m6 0h1m24 0h2m11 0h4m28 0h1m61 0h1m18 0h1m-219 1h2m32 0h5m6 0h4m18 0h1m22 0h2m45 0h1m59 0h2m19 0h1m-220 1h1m39 0h6m23 0h1m20 0h1m48 0h1m56 0h2m-200 1h2m69 0h1m19 0h1m50 0h1m46 0h9m-200 1h2m72 0h1m18 0h1m51 0h1m44 0h1m-192 1h1m74 0h1m17 0h1m53 0h1m42 0h1m35 0h1m-278 1h4m46 0h1m76 0h1m15 0h1m55 0h1m40 0h1m36 0h1m-284 1h6m4 0h2m13 0h2m27 0h2m77 0h1m14 0h1m56 0h1m38 0h2m-250 1h4m12 0h1m10 0h2m2 0h3m23 0h1m80 0h1m12 0h1m58 0h1m36 0h1m-252 1h4m17 0h1m8 0h1m7 0h2m20 0h1m81 0h1m12 0h1m59 0h1m34 0h1m-255 1h4m22 0h2m4 0h2m10 0h3m15 0h2m83 0h1m10 0h1m61 0h1m32 0h1m-257 1h3m28 0h1m1 0h2m15 0h2m11 0h2m85 0h1m8 0h2m63 0h5m26 0h1m-257 1h1m32 0h1m19 0h2m7 0h2m88 0h1m5 0h2m70 0h4m21 0h1m-257 1h1m55 0h2m2 0h3m90 0h1m2 0h3m76 0h1m20 0h1m-258 1h1m58 0h2m94 0h2m80 0h1m18 0h1m66 0h17m92 0h8m-441 1h1m238 0h1m16 0h1m65 0h2m17 0h1m85 0h6m8 0h4m-446 1h1m240 0h1m14 0h1m50 0h1m13 0h2m19 0h1m83 0h2m17 0h1m-447 1h1m241 0h1m13 0h1m51 0h1m11 0h2m22 0h1m79 0h3m-438 1h6m4 0h1m243 0h1m12 0h1m61 0h2m24 0h1m76 0h3m-437 1h2m6 0h4m245 0h1m10 0h1m60 0h2m27 0h1m71 0h4m-437 1h3m258 0h1m5 0h4m59 0h2m29 0h1m68 0h3m-435 1h2m262 0h5m59 0h1m1 0h2m32 0h1m66 0h1m-433 1h1m328 0h2m35 0h1m65 0h1m-433 1h1m365 0h1m42 0h1m21 0h1m-433 1h1m367 0h1m39 0h2m1 0h1m20 0h1m-434 1h1m368 0h1m38 0h1m4 0h1m18 0h1m-434 1h1m370 0h1m16 0h2m17 0h2m6 0h2m16 0h1m-434 1h1m370 0h1m15 0h1m2 0h2m13 0h2m10 0h1m14 0h1m-434 1h1m372 0h2m11 0h2m5 0h2m9 0h2m13 0h1m13 0h1m-966 1h2m529 0h1m375 0h2m8 0h1m9 0h2m3 0h4m16 0h1m11 0h1m212 0h3m-1182 1h2m2 0h1m510 0h1m16 0h1m378 0h2m5 0h1m12 0h3m21 0h1m10 0h1m210 0h2m3 0h4m-1189 1h3m5 0h1m508 0h1m1 0h1m15 0h1m380 0h2m1 0h2m38 0h2m7 0h1m210 0h1m9 0h6m-1197 1h2m8 0h1m507 0h1m3 0h1m13 0h1m383 0h1m42 0h2m5 0h1m208 0h2m16 0h4m-1202 1h1m11 0h1m505 0h1m5 0h1m11 0h1m429 0h1m3 0h1m207 0h2m21 0h1m-1203 1h1m13 0h1m502 0h2m7 0h1m8 0h2m431 0h2m1 0h1m206 0h1m24 0h1m-1205 1h1m15 0h1m500 0h1m10 0h1m6 0h1m435 0h1m206 0h1m25 0h1m-1206 1h1m17 0h1m498 0h1m12 0h1m4 0h1m643 0h1m26 0h1m-1222 1h5m10 0h1m17 0h1m497 0h1m14 0h1m1 0h2m643 0h1m27 0h1m-1228 1h6m5 0h2m7 0h1m19 0h1m328 0h1m165 0h2m16 0h1m503 0h1m140 0h1m29 0h1m-1233 1h4m13 0h2m4 0h1m21 0h9m55 0h5m8 0h6m244 0h1m1 0h1m163 0h1m520 0h2m1 0h1m139 0h1m29 0h1m-1236 1h3m19 0h2m1 0h1m31 0h1m52 0h2m5 0h8m6 0h4m240 0h1m2 0h1m160 0h2m519 0h2m3 0h1m138 0h1m-1206 1h1m24 0h1m32 0h1m51 0h1m25 0h2m237 0h1m4 0h1m105 0h4m48 0h2m519 0h2m6 0h1m136 0h1m-1205 1h1m58 0h1m48 0h2m28 0h2m234 0h1m6 0h1m99 0h5m4 0h1m46 0h1m519 0h2m9 0h1m135 0h1m-1206 1h1m59 0h1m46 0h2m32 0h1m233 0h1m7 0h1m96 0h2m9 0h1m30 0h1m14 0h1m518 0h2m12 0h1m90 0h2m41 0h1m34 0h1m-1241 1h1m61 0h1m44 0h1m35 0h1m231 0h1m9 0h1m94 0h1m12 0h1m28 0h1m1 0h1m12 0h1m517 0h2m14 0h1m27 0h3m58 0h2m2 0h2m38 0h1m35 0h1m-1242 1h1m62 0h1m42 0h2m37 0h2m8 0h2m218 0h1m11 0h1m55 0h2m23 0h3m8 0h2m14 0h1m26 0h1m3 0h1m10 0h1m514 0h1m1 0h2m17 0h1m25 0h1m3 0h4m51 0h3m6 0h1m37 0h1m36 0h1m-1243 1h1m63 0h1m40 0h1m41 0h1m3 0h4m2 0h1m217 0h1m12 0h2m49 0h4m2 0h1m21 0h1m3 0h4m2 0h2m17 0h1m24 0h1m5 0h1m8 0h1m515 0h2m20 0h1m23 0h1m8 0h3m46 0h2m10 0h1m35 0h1m37 0h1m-1244 1h1m65 0h1m37 0h2m43 0h3m7 0h1m215 0h1m15 0h3m43 0h3m7 0h1m19 0h1m8 0h2m19 0h1m23 0h1m7 0h1m7 0h1m538 0h1m7 0h2m12 0h1m12 0h2m42 0h2m13 0h2m31 0h2m39 0h1m-1246 1h1m66 0h1m35 0h2m56 0h1m203 0h4m6 0h1m19 0h2m25 0h1m14 0h1m11 0h1m18 0h1m30 0h1m10 0h2m10 0h1m8 0h1m5 0h1m539 0h1m3 0h4m2 0h2m9 0h1m15 0h2m38 0h2m17 0h1m28 0h2m41 0h1m-1252 1h2m3 0h1m68 0h1m33 0h1m59 0h1m200 0h2m4 0h4m2 0h1m21 0h2m22 0h1m1 0h1m13 0h1m12 0h1m16 0h1m32 0h1m7 0h2m2 0h2m7 0h1m10 0h1m3 0h1m541 0h3m8 0h2m6 0h1m18 0h2m34 0h2m20 0h5m21 0h2m44 0h1m-1251 1h2m1 0h1m68 0h1m17 0h2m12 0h2m60 0h1m197 0h3m10 0h2m24 0h2m19 0h1m2 0h1m12 0h1m14 0h1m14 0h1m34 0h1m4 0h2m6 0h2m4 0h1m12 0h1m1 0h1m555 0h1m4 0h1m21 0h1m31 0h2m27 0h5m14 0h2m46 0h9m-1257 1h1m70 0h1m14 0h2m2 0h2m9 0h1m63 0h1m18 0h1m175 0h2m41 0h2m16 0h1m4 0h1m11 0h1m15 0h1m12 0h1m35 0h1m2 0h2m10 0h2m1 0h1m14 0h1m557 0h2m1 0h1m23 0h2m28 0h1m34 0h2m10 0h2m57 0h1m-1187 1h1m12 0h2m6 0h2m5 0h2m65 0h1m16 0h2m174 0h1m45 0h1m13 0h2m5 0h1m10 0h1m17 0h1m10 0h1m37 0h2m14 0h1m575 0h1m26 0h1m26 0h1m37 0h2m6 0h2m60 0h1m-1187 1h5m5 0h2m10 0h2m1 0h2m68 0h1m14 0h1m176 0h1m46 0h2m10 0h1m8 0h1m9 0h1m18 0h3m7 0h1m657 0h1m24 0h1m40 0h2m2 0h2m63 0h1m-1183 1h5m14 0h1m71 0h1m12 0h1m176 0h1m49 0h5m4 0h1m10 0h1m7 0h1m22 0h4m2 0h1m659 0h2m21 0h1m43 0h2m66 0h1m-1092 1h2m9 0h1m177 0h1m54 0h4m11 0h1m6 0h1m27 0h2m662 0h1m19 0h1m113 0h1m-1091 1h2m6 0h1m6 0h1m170 0h1m71 0h1m5 0h1m692 0h2m16 0h1m115 0h1m-1090 1h1m4 0h1m7 0h1m170 0h1m72 0h1m3 0h1m695 0h2m13 0h1m117 0h1m-1090 1h2m1 0h1m178 0h1m73 0h1m3 0h1m697 0h2m9 0h2m119 0h2m-1090 1h1m179 0h1m74 0h1m1 0h1m700 0h2m3 0h4m123 0h3m99 0h2m-1015 1h1m75 0h1m1 0h1m702 0h3m130 0h2m96 0h1m2 0h2m-1017 1h1m76 0h1m838 0h3m93 0h1m4 0h2m-1020 1h1m919 0h3m89 0h1m7 0h2m-1022 1h1m922 0h2m87 0h1m9 0h1m-1024 1h1m925 0h4m82 0h1m-1013 1h1m929 0h4m78 0h1m-1015 1h2m934 0h2m75 0h1m-1175 1h1m156 0h4m938 0h1m62 0h1m11 0h1m-1175 1h1m153 0h3m942 0h1m62 0h2m9 0h1m-1164 1h2m141 0h1m946 0h1m63 0h1m8 0h1m-1166 1h2m2 0h3m138 0h1m947 0h1m63 0h2m5 0h1m-1167 1h2m7 0h2m135 0h1m948 0h1m65 0h1m4 0h1m-1171 1h1m1 0h2m11 0h6m43 0h1m85 0h1m949 0h1m57 0h1m7 0h1m2 0h1m-1170 1h2m19 0h6m36 0h1m1 0h1m83 0h1m951 0h1m56 0h1m8 0h1m1 0h1m-1143 1h4m32 0h1m2 0h1m81 0h1m952 0h1m66 0h1m-1138 1h2m29 0h1m4 0h1m80 0h1m953 0h1m-1070 1h1m28 0h1m5 0h1m78 0h1m955 0h1m-1070 1h1m26 0h1m7 0h1m26 0h1m49 0h1m956 0h1m24 0h5m-1098 1h1m25 0h1m8 0h1m24 0h1m1 0h1m48 0h1m957 0h5m18 0h1m5 0h4m-1101 1h1m23 0h1m10 0h1m22 0h1m3 0h1m46 0h1m963 0h4m13 0h1m10 0h2m-1103 1h1m23 0h1m11 0h9m12 0h1m4 0h1m37 0h5m4 0h1m967 0h1m11 0h1m13 0h1m-1103 1h1m21 0h1m21 0h2m9 0h1m6 0h1m34 0h2m5 0h4m969 0h1m9 0h1m15 0h1m-1103 1h1m20 0h1m23 0h1m8 0h1m7 0h1m32 0h1m981 0h2m7 0h1m16 0h2m-1104 1h1m18 0h1m25 0h1m6 0h1m9 0h1m29 0h2m984 0h1m5 0h1m19 0h1m10 0h1m-1115 1h1m17 0h1m26 0h2m3 0h1m11 0h1m8 0h6m12 0h2m987 0h1m3 0h1m21 0h1m9 0h1m-1114 1h1m15 0h1m29 0h1m1 0h1m12 0h1m6 0h2m6 0h12m990 0h1m1 0h1m23 0h2m-1105 1h1m14 0h1m30 0h1m14 0h1m2 0h3m1011 0h1m26 0h2m-1106 1h1m12 0h1m47 0h2m1043 0h1m-1106 1h1m11 0h1m1093 0h3m-1109 1h1m9 0h2m1096 0h1m-1108 1h1m7 0h1m-8 1h1m4 0h2m-6 1h1m1 0h2m-3 1h1" transform="translate(0 .5)" stroke="#1e90ff" stroke-width="1" fill="none"/><path d="M0 0m189 845v3m2 2v3m1 0v3m1 0v3m2 2v3m714-70v3m2 2v3m1 0v3m1 0v3m2 2v3m138-4v4m1 0v4m1 0v4m1 0v4m1 0v4m1 0v4m1 0v4m189-5v3m101 42v3m2-8v3m1-6v3m1-6v3m2-8v3" transform="translate(.5 0)" stroke="#1e90ff" stroke-width="1" fill="none"/>
</g>
<rect x="957.5" y="40.5" width="61" height="18" fill="#fff" stroke="#ff0000" stroke-width="1" shape-rendering="crispEdges"/>
<rect x="1019" y="49" width="10" height="1" fill="#ff0000" shape-rendering="crispEdges"/>
<text x="959.6" y="55.9" font-size="16.5" fill="#ff0000" textLength="57.6" lengthAdjust="spacingAndGlyphs">28395.5</text>
<rect x="245.5" y="553.5" width="61" height="18" fill="#fff" stroke="#ff0000" stroke-width="1" shape-rendering="crispEdges"/>
<rect x="307" y="562" width="10" height="1" fill="#ff0000" shape-rendering="crispEdges"/>
<text x="247.6" y="568.9" font-size="16.5" fill="#ff0000" textLength="57.6" lengthAdjust="spacingAndGlyphs">24300.3</text>
<rect x="1173.5" y="185.5" width="61" height="18" fill="#fff" stroke="#ff0000" stroke-width="1" shape-rendering="crispEdges"/>
<rect x="1235" y="194" width="10" height="1" fill="#ff0000" shape-rendering="crispEdges"/>
<text x="1175.6" y="200.9" font-size="16.5" fill="#ff0000" textLength="57.6" lengthAdjust="spacingAndGlyphs">27238.1</text>
<rect x="1277.5" y="244.5" width="61" height="18" fill="#fff" stroke="#ff0000" stroke-width="1" shape-rendering="crispEdges"/>
<rect x="1339" y="253" width="10" height="1" fill="#ff0000" shape-rendering="crispEdges"/>
<text x="1279.6" y="259.9" font-size="16.5" fill="#ff0000" textLength="57.6" lengthAdjust="spacingAndGlyphs">26767.2</text>
<line x1="1223.0" y1="103.0" x2="1335.8" y2="245.5" stroke="#ff0000" stroke-width="3.0"/>
<path d="M1341.4 252.6L1330.5 247.2L1338.7 240.7z" fill="#ff0000"/>
<line x1="1342.0" y1="251.5" x2="1375.4" y2="211.2" stroke="#ff0000" stroke-width="3.1"/>
<path d="M1381.8 203.5L1378.3 216.2L1370.0 209.3z" fill="#ff0000"/>
<line x1="1381.8" y1="204.5" x2="1419.6" y2="231.0" stroke="#ff0000" stroke-width="2.5"/>
<path d="M1427.0 236.2L1415.2 233.8L1420.8 226.0z" fill="#ff0000"/>
<line x1="1337.5" y1="689.4" x2="1387.8" y2="692.8" stroke="#ff0000" stroke-width="3"/>
<path d="M1397.8 693.5L1385.5 697.1L1386.1 688.3z" fill="#ff0000"/>
<line x1="1324.6" y1="873.5" x2="1375.9" y2="857.0" stroke="#ff0000" stroke-width="3.2"/>
<path d="M1384.5 854.2L1375.4 862.0L1372.6 853.2z" fill="#ff0000"/>
<line x1="1383.0" y1="855.2" x2="1390.3" y2="857.8" stroke="#ff0000" stroke-width="3"/>
<path d="M1397.8 860.5L1386.8 861.6L1390.0 852.6z" fill="#ff0000"/>
<rect x="1648" y="44" width="2" height="1" fill="#000"/>
<text x="1653" y="48" font-size="10.0" fill="#000" textLength="33" lengthAdjust="spacingAndGlyphs" class="k">28442.0</text>
<rect x="1648" y="77" width="2" height="1" fill="#000"/>
<text x="1653" y="81" font-size="10.0" fill="#000" textLength="33" lengthAdjust="spacingAndGlyphs" class="k">28172.0</text>
<rect x="1648" y="110" width="2" height="1" fill="#000"/>
<text x="1653" y="114" font-size="10.0" fill="#000" textLength="33" lengthAdjust="spacingAndGlyphs" class="k">27909.5</text>
<rect x="1648" y="143" width="2" height="1" fill="#000"/>
<text x="1653" y="147" font-size="10.0" fill="#000" textLength="33" lengthAdjust="spacingAndGlyphs" class="k">27647.0</text>
<rect x="1648" y="176" width="2" height="1" fill="#000"/>
<text x="1653" y="180" font-size="10.0" fill="#000" textLength="33" lengthAdjust="spacingAndGlyphs" class="k">27384.5</text>
<rect x="1648" y="209" width="2" height="1" fill="#000"/>
<text x="1653" y="213" font-size="10.0" fill="#000" textLength="33" lengthAdjust="spacingAndGlyphs" class="k">27122.0</text>
<rect x="1648" y="308" width="2" height="1" fill="#000"/>
<text x="1653" y="312" font-size="10.0" fill="#000" textLength="33" lengthAdjust="spacingAndGlyphs" class="k">26327.0</text>
<rect x="1648" y="341" width="2" height="1" fill="#000"/>
<text x="1653" y="345" font-size="10.0" fill="#000" textLength="33" lengthAdjust="spacingAndGlyphs" class="k">26064.5</text>
<rect x="1648" y="374" width="2" height="1" fill="#000"/>
<text x="1653" y="378" font-size="10.0" fill="#000" textLength="33" lengthAdjust="spacingAndGlyphs" class="k">25802.0</text>
<rect x="1648" y="407" width="2" height="1" fill="#000"/>
<text x="1653" y="411" font-size="10.0" fill="#000" textLength="33" lengthAdjust="spacingAndGlyphs" class="k">25539.5</text>
<rect x="1648" y="440" width="2" height="1" fill="#000"/>
<text x="1653" y="444" font-size="10.0" fill="#000" textLength="33" lengthAdjust="spacingAndGlyphs" class="k">25269.5</text>
<rect x="1648" y="473" width="2" height="1" fill="#000"/>
<text x="1653" y="477" font-size="10.0" fill="#000" textLength="33" lengthAdjust="spacingAndGlyphs" class="k">25007.0</text>
<rect x="1648" y="506" width="2" height="1" fill="#000"/>
<text x="1653" y="510" font-size="10.0" fill="#000" textLength="33" lengthAdjust="spacingAndGlyphs" class="k">24744.5</text>
<rect x="1648" y="539" width="2" height="1" fill="#000"/>
<text x="1653" y="543" font-size="10.0" fill="#000" textLength="33" lengthAdjust="spacingAndGlyphs" class="k">24482.0</text>
<rect x="1648" y="572" width="2" height="1" fill="#000"/>
<text x="1653" y="576" font-size="10.0" fill="#000" textLength="33" lengthAdjust="spacingAndGlyphs" class="k">24219.5</text>
<rect x="1647" y="218" width="1" height="1" fill="#c0c0c0"/>
<rect x="1649" y="118" width="41" height="11" fill="#ff0000"/>
<text x="1653" y="127" font-size="10.0" fill="#fff" textLength="33" lengthAdjust="spacingAndGlyphs">27796.8</text>
<rect x="1649" y="155" width="41" height="11" fill="#ff0000"/>
<text x="1653" y="164" font-size="10.0" fill="#fff" textLength="33" lengthAdjust="spacingAndGlyphs">27501.5</text>
<rect x="1649" y="188" width="41" height="11" fill="#32cd32"/>
<text x="1653" y="197" font-size="10.0" fill="#fff" textLength="33" lengthAdjust="spacingAndGlyphs">27238.1</text>
<rect x="1649" y="213" width="41" height="11" fill="#000"/>
<text x="1653" y="222" font-size="10.0" fill="#fff" textLength="33" lengthAdjust="spacingAndGlyphs">27045.0</text>
<rect x="1649" y="237" width="41" height="11" fill="#0000ff"/>
<text x="1653" y="246" font-size="10.0" fill="#fff" textLength="33" lengthAdjust="spacingAndGlyphs">26847.0</text>
<rect x="1649" y="272" width="41" height="11" fill="#0000ff"/>
<text x="1653" y="281" font-size="10.0" fill="#fff" textLength="33" lengthAdjust="spacingAndGlyphs">26567.6</text>
<text x="1651" y="588" font-size="10.0" fill="#000" textLength="28" lengthAdjust="spacingAndGlyphs" class="k">469.42</text>
<rect x="1648" y="658" width="1" height="1" fill="#000"/>
<text x="1651" y="662" font-size="10.0" fill="#000" textLength="18.2" lengthAdjust="spacingAndGlyphs" class="k">0.00</text>
<text x="1651" y="744" font-size="10.0" fill="#000" textLength="26" lengthAdjust="spacingAndGlyphs" class="k">-519.1</text>
<text x="1651.3" y="760" font-size="10.0" fill="#000" textLength="14.7" lengthAdjust="spacingAndGlyphs" class="k">100</text>
<text x="1650" y="789" font-size="10.0" fill="#000" textLength="10.3" lengthAdjust="spacingAndGlyphs" class="k">80</text>
<text x="1650" y="840" font-size="10.0" fill="#000" textLength="10.3" lengthAdjust="spacingAndGlyphs" class="k">50</text>
<text x="1650" y="901" font-size="10.0" fill="#000" textLength="10.3" lengthAdjust="spacingAndGlyphs" class="k">15</text>
<text x="1651" y="920" font-size="10.0" fill="#000" textLength="5.2" lengthAdjust="spacingAndGlyphs" class="k">0</text>
<text x="3" y="33.7" font-size="10.0" fill="#000" textLength="197" lengthAdjust="spacingAndGlyphs" class="k">JPN225-,H4  27132.5 27205.0 27015.0 27045.0</text>
<text x="1" y="590" font-size="10.0" fill="#000" textLength="125" lengthAdjust="spacingAndGlyphs" class="k">ACD(12,26,9) -198.89 -187.95</text>
<text x="-3" y="762" font-size="10.0" fill="#000" textLength="62.5" lengthAdjust="spacingAndGlyphs" class="k">SI(14) 39.3105</text>
<text x="1" y="936" font-size="10.0" fill="#000" textLength="37.5" lengthAdjust="spacingAndGlyphs" class="k">Feb 2022</text>
<rect x="52" y="924" width="1" height="3" fill="#000"/>
<text x="51.5" y="936" font-size="10.0" fill="#000" textLength="49" lengthAdjust="spacingAndGlyphs" class="k">1 Mar 00:00</text>
<rect x="116" y="924" width="1" height="3" fill="#000"/>
<text x="115.5" y="936" font-size="10.0" fill="#000" textLength="49" lengthAdjust="spacingAndGlyphs" class="k">2 Mar 10:55</text>
<rect x="180" y="924" width="1" height="3" fill="#000"/>
<text x="179.5" y="936" font-size="10.0" fill="#000" textLength="49" lengthAdjust="spacingAndGlyphs" class="k">3 Mar 18:55</text>
<rect x="244" y="924" width="1" height="3" fill="#000"/>
<text x="243.5" y="936" font-size="10.0" fill="#000" textLength="49" lengthAdjust="spacingAndGlyphs" class="k">7 Mar 00:00</text>
<rect x="308" y="924" width="1" height="3" fill="#000"/>
<text x="307.5" y="936" font-size="10.0" fill="#000" textLength="49" lengthAdjust="spacingAndGlyphs" class="k">8 Mar 09:00</text>
<rect x="372" y="924" width="1" height="3" fill="#000"/>
<text x="371.5" y="936" font-size="10.0" fill="#000" textLength="49" lengthAdjust="spacingAndGlyphs" class="k">9 Mar 18:55</text>
<rect x="436" y="924" width="1" height="3" fill="#000"/>
<text x="435.5" y="936" font-size="10.0" fill="#000" textLength="53.7" lengthAdjust="spacingAndGlyphs" class="k">11 Mar 00:00</text>
<rect x="500" y="924" width="1" height="3" fill="#000"/>
<text x="499.5" y="936" font-size="10.0" fill="#000" textLength="53.7" lengthAdjust="spacingAndGlyphs" class="k">14 Mar 10:55</text>
<rect x="564" y="924" width="1" height="3" fill="#000"/>
<text x="563.5" y="936" font-size="10.0" fill="#000" textLength="53.7" lengthAdjust="spacingAndGlyphs" class="k">15 Mar 18:55</text>
<rect x="628" y="924" width="1" height="3" fill="#000"/>
<text x="627.5" y="936" font-size="10.0" fill="#000" textLength="53.7" lengthAdjust="spacingAndGlyphs" class="k">17 Mar 00:00</text>
<rect x="692" y="924" width="1" height="3" fill="#000"/>
<text x="691.5" y="936" font-size="10.0" fill="#000" textLength="53.7" lengthAdjust="spacingAndGlyphs" class="k">18 Mar 10:55</text>
<rect x="756" y="924" width="1" height="3" fill="#000"/>
<text x="755.5" y="936" font-size="10.0" fill="#000" textLength="53.7" lengthAdjust="spacingAndGlyphs" class="k">21 Mar 18:55</text>
<rect x="820" y="924" width="1" height="3" fill="#000"/>
<text x="819.5" y="936" font-size="10.0" fill="#000" textLength="53.7" lengthAdjust="spacingAndGlyphs" class="k">23 Mar 00:00</text>
<rect x="884" y="924" width="1" height="3" fill="#000"/>
<text x="883.5" y="936" font-size="10.0" fill="#000" textLength="53.7" lengthAdjust="spacingAndGlyphs" class="k">24 Mar 10:55</text>
<rect x="948" y="924" width="1" height="3" fill="#000"/>
<text x="947.5" y="936" font-size="10.0" fill="#000" textLength="53.7" lengthAdjust="spacingAndGlyphs" class="k">25 Mar 18:55</text>
<rect x="1012" y="924" width="1" height="3" fill="#000"/>
<text x="1011.5" y="936" font-size="10.0" fill="#000" textLength="53.7" lengthAdjust="spacingAndGlyphs" class="k">29 Mar 00:00</text>
<rect x="1076" y="924" width="1" height="3" fill="#000"/>
<text x="1075.5" y="936" font-size="10.0" fill="#000" textLength="53.7" lengthAdjust="spacingAndGlyphs" class="k">30 Mar 10:55</text>
<rect x="1140" y="924" width="1" height="3" fill="#000"/>
<text x="1139.5" y="936" font-size="10.0" fill="#000" textLength="53.7" lengthAdjust="spacingAndGlyphs" class="k">31 Mar 18:55</text>
<rect x="1204" y="924" width="1" height="3" fill="#000"/>
<text x="1203.5" y="936" font-size="10.0" fill="#000" textLength="48" lengthAdjust="spacingAndGlyphs" class="k">4 Apr 00:00</text>
<rect x="1268" y="924" width="1" height="3" fill="#000"/>
<text x="1267.5" y="936" font-size="10.0" fill="#000" textLength="48" lengthAdjust="spacingAndGlyphs" class="k">5 Apr 10:55</text>
<rect x="1332" y="924" width="1" height="3" fill="#000"/>
<text x="1331.5" y="936" font-size="10.0" fill="#000" textLength="48" lengthAdjust="spacingAndGlyphs" class="k">6 Apr 18:55</text>
<g clip-path="url(#ctb)">
<defs><clipPath id="ctb"><rect x="0" y="0" width="1694" height="18"/></clipPath><linearGradient id="gold" x1="0" y1="0" x2="1" y2="1"><stop offset="0" stop-color="#f7d774"/><stop offset="1" stop-color="#c48a12"/></linearGradient><radialGradient id="lens"><stop offset="0" stop-color="#e8f2ff"/><stop offset="1" stop-color="#8ab4ee"/></radialGradient></defs>
<rect x="0" y="12" width="2" height="2" fill="#e8a020"/>
<rect x="8" y="0" width="1" height="15" fill="#a0a0a0"/><rect x="9" y="0" width="1" height="15" fill="#fff"/>
<path d="M19.5 -2h8l3 3v9h-11z" fill="#fff" stroke="#8a8a8a" stroke-width="1"/>
<path d="M21 3h5M21 5h5" stroke="#9a9a9a" stroke-width="1"/>
<path d="M26 4.6h3.6v3.7h3.9v3.6h-3.9v3.7h-3.6v-3.7h-3.9v-3.6h3.9z" fill="#22b422" stroke="#0c7a0c" stroke-width="0.8"/>
<path transform="translate(37.2 -1.3) scale(0.93)" d="M3 0v1.5M0.5 2h5.5M1.5 3l0.5 1.5M4.5 3l-0.5 1.5M0 5.2h6.2M0.8 7.5h4.8M3.2 5.2v6.3l-0.8 -0.4M2.8 8l-2.3 2.5M3.8 8.3l1.7 1.7M11 0.5l-3.5 1.5v5l-1 5M7.5 5h4.5M10 5v6.8" fill="none" stroke="#000" stroke-width="1.25" stroke-linejoin="round"/>
<path transform="translate(49.5 -1.3) scale(0.93)" d="M1.5 0.5l1 1.3M0.3 4h2.2v6l1.5 -1.2M4.5 1.5h7.5M8.5 1.5v9.5l-1.5 -0.3" fill="none" stroke="#000" stroke-width="1.25" stroke-linejoin="round"/>
<path transform="translate(61.800000000000004 -1.3) scale(0.93)" d="M3 0l1 1.5M9 0l-1 1.5M1.5 2.2h9v4.8h-9zM1.5 4.6h9M0 9h12M6 2.2v9.8" fill="none" stroke="#000" stroke-width="1.25" stroke-linejoin="round"/>
<path transform="translate(190.0 -1.3) scale(0.93)" d="M6 0l-1 1.5M2.5 1.8h7v9.7h-7zM2.5 5h7M2.5 8.2h7" fill="none" stroke="#000" stroke-width="1.25" stroke-linejoin="round"/>
<path transform="translate(201.9 -1.3) scale(0.93)" d="M1 2h4.5M0 5h6.2M3 5l-2 5l4.5 -0.5M4.5 7.5l1.3 3M6.5 3.5h5l-0.3 7.5l-1.2 0.5M9 0.5v4.5l-2.5 6.5" fill="none" stroke="#000" stroke-width="1.25" stroke-linejoin="round"/>
<path transform="translate(213.8 -1.3) scale(0.93)" d="M6 0v1.5M0.5 2.5h11M4 3.8l-2.5 2.4M8 3.8l2.5 2.4M8.5 5.5l-7.5 6M3.5 5.5l8 6" fill="none" stroke="#000" stroke-width="1.25" stroke-linejoin="round"/>
<path transform="translate(225.7 -1.3) scale(0.93)" d="M2.5 0.3h7v4.9h-7zM2.5 2.8h7M2.8 5.5l-2.3 2.5M2 6.8h9l-0.5 4.2l-1 0.5M5.5 7l-3.5 4.5M8.3 7l-3.3 4.5" fill="none" stroke="#000" stroke-width="1.25" stroke-linejoin="round"/>
<path d="M85 6l9-8l7 8l-8 7z" fill="url(#gold)" stroke="#a06a08" stroke-width="0.8"/>
<path d="M85 6l8 7l8-7v1.6l-8 7.2l-8-7.2z" fill="#b07a10"/>
<rect x="116" y="-2" width="9" height="9" fill="#3b8ae6"/>
<path d="M118 2h5" stroke="#cfe4ff" stroke-width="1"/>
<path d="M114 12.5a3 3 0 0 1 1.5-5.6a4.2 4.2 0 0 1 8-0.6a3.4 3.4 0 0 1 5 3.2a2.8 2.8 0 0 1 -1.5 3z" fill="#e8eef8" stroke="#8a9cc0" stroke-width="0.9"/>
<circle cx="149" cy="5" r="7.6" fill="none" stroke="#b8ccec" stroke-width="1.4"/>
<circle cx="149" cy="5" r="4.8" fill="none" stroke="#7a9ede" stroke-width="1.4"/>
<circle cx="149" cy="5" r="2" fill="#2e5cc8"/>
<path d="M149.6 5v8.6a8 8 0 0 0 7.6-7.6a8 8 0 0 0 -1-4.4z" fill="#4cb04c" opacity="0.85"/>
<path d="M168 4h15l-4 6.5l-2.6 3.2h-3.6z" fill="#f2c83a" stroke="#b88a10" stroke-width="0.8"/>
<ellipse cx="175.5" cy="3.4" rx="8" ry="3" fill="#5aa0e0" stroke="#2e6cb8" stroke-width="0.7"/>
<path d="M171 3c0-6 9-6 9 0z" fill="#6ab0ec"/>
<circle cx="180.6" cy="9.6" r="3.9" fill="#d82020" stroke="#a01010" stroke-width="0.6"/>
<rect x="179" y="8" width="3.2" height="3.2" fill="#fff"/>
<rect x="244" y="0" width="1" height="15" fill="#a0a0a0"/><rect x="245" y="0" width="1" height="15" fill="#fff"/>
<rect x="248" y="1" width="3" height="1" fill="#b4b4b4"/>
<rect x="248" y="3" width="3" height="1" fill="#b4b4b4"/>
<rect x="248" y="5" width="3" height="1" fill="#b4b4b4"/>
<rect x="248" y="7" width="3" height="1" fill="#b4b4b4"/>
<rect x="248" y="9" width="3" height="1" fill="#b4b4b4"/>
<rect x="248" y="11" width="3" height="1" fill="#b4b4b4"/>
<rect x="248" y="13" width="3" height="1" fill="#b4b4b4"/>
<path d="M262.2 -2v15.5M258.7 11.5h13.5" stroke="#555" stroke-width="1.1" fill="none"/>
<path d="M270.09999999999997 9.7l3 1.8l-3 1.8z" fill="#555"/>
<path d="M269 1.5v8M269 2h2.2M266 8.8h3" stroke="#1aa01a" stroke-width="1.3" fill="none"/>
<rect x="282" y="0" width="1" height="15" fill="#a0a0a0"/><rect x="283" y="0" width="1" height="15" fill="#fff"/>
<rect x="284" y="0" width="23" height="15.5" fill="#f9f9f9"/>
<path d="M290.7 -2v15.5M287.2 11.5h13.5" stroke="#555" stroke-width="1.1" fill="none"/>
<path d="M298.59999999999997 9.7l3 1.8l-3 1.8z" fill="#555"/>
<rect x="294.2" y="-1" width="4.2" height="8.4" fill="#3ad03a" stroke="#0c900c" stroke-width="0.9"/><path d="M296.3 7.4v2.3" stroke="#0c900c" stroke-width="1.1"/>
<path d="M318.4 -2v15.5M314.9 11.5h13.5" stroke="#555" stroke-width="1.1" fill="none"/>
<path d="M326.29999999999995 9.7l3 1.8l-3 1.8z" fill="#555"/>
<path d="M317 8.6q3.4 -5.8 6 -5.6q2.2 0.2 5.6 4" stroke="#1aa01a" stroke-width="1.2" fill="none"/>
<rect x="339" y="0" width="1" height="15" fill="#a0a0a0"/><rect x="340" y="0" width="1" height="15" fill="#fff"/>
<path d="M357.40000000000003 7.2l5 5" stroke="#d8a428" stroke-width="3" stroke-linecap="round"/>
<circle cx="353.8" cy="3.6" r="5.6" fill="url(#lens)" stroke="#5a86d0" stroke-width="1.3"/>
<path d="M350.8 3.6h6" stroke="#2a5cc0" stroke-width="1.6"/>
<path d="M353.8 0.6v6" stroke="#2a5cc0" stroke-width="1.6"/>
<path d="M385.6 7.2l5 5" stroke="#d8a428" stroke-width="3" stroke-linecap="round"/>
<circle cx="382" cy="3.6" r="5.6" fill="url(#lens)" stroke="#5a86d0" stroke-width="1.3"/>
<path d="M379 3.6h6" stroke="#2a5cc0" stroke-width="1.6"/>
<rect x="404.5" y="-2" width="7.4" height="7" fill="#3cba4c"/><rect x="413" y="-2" width="7.4" height="7" fill="#3a7ae0"/>
<rect x="404.5" y="6.2" width="7.4" height="7" fill="#3a7ae0"/><rect x="413" y="6.2" width="7.4" height="7" fill="#3cba4c"/>
<path d="M405.5 3h5.4M414 3h5.4M405.5 11h5.4M414 11h5.4" stroke="#fff" stroke-width="1.6"/>
<rect x="429" y="0" width="1" height="15" fill="#a0a0a0"/><rect x="430" y="0" width="1" height="15" fill="#fff"/>
<rect x="434" y="0" width="1" height="15" fill="#a0a0a0"/><rect x="435" y="0" width="1" height="15" fill="#fff"/>
<rect x="436" y="0" width="23" height="15.5" fill="#f9f9f9"/>
<path d="M442.4 -2v15.5M438.9 11.5h13.5" stroke="#555" stroke-width="1.1" fill="none"/>
<path d="M450.29999999999995 9.7l3 1.8l-3 1.8z" fill="#555"/>
<path d="M447 2.6l4 3l-4 3z" fill="#7ad87a" stroke="#1a9a1a" stroke-width="0.9"/>
<rect x="462" y="0" width="1" height="15" fill="#a0a0a0"/><rect x="463" y="0" width="1" height="15" fill="#fff"/>
<rect x="464" y="0" width="23" height="15.5" fill="#f9f9f9"/>
<path d="M470.5 -2v15.5M467 11.5h13.5" stroke="#555" stroke-width="1.1" fill="none"/>
<path d="M478.4 9.7l3 1.8l-3 1.8z" fill="#555"/>
<path d="M476.5 -2v11.5" stroke="#2a6ac0" stroke-width="1.1"/><path d="M477.5 5.5h4.4M477.5 5.5l2.4-2M477.5 5.5l2.4 2" stroke="#d04010" stroke-width="1.1" fill="none"/>
<rect x="491" y="0" width="1" height="15" fill="#a0a0a0"/><rect x="492" y="0" width="1" height="15" fill="#fff"/>
<path d="M501.5 -2h8l3 3v10h-11z" fill="#f6f6f6" stroke="#8a8a8a" stroke-width="1"/>
<path d="M509.4 4.6h3.6v3.7h3.9v3.6h-3.9v3.7h-3.6v-3.7h-3.9v-3.6h3.9z" fill="#2cc42c" stroke="#0c7a0c" stroke-width="0.8"/>
<path d="M523 5h5l-2.5 3z" fill="#000"/>
<circle cx="546.8" cy="5.7" r="7.8" fill="#2a62c8" stroke="#1a469c" stroke-width="1"/>
<circle cx="546.8" cy="5.7" r="5.4" fill="#f0f4fc"/>
<path d="M546.8 2.2v3.8h2.8" stroke="#333" stroke-width="1" fill="none"/>
<path d="M562 5h5l-2.5 3z" fill="#000"/>
<rect x="579" y="-2" width="15" height="14.5" fill="#f4f8ff" stroke="#3a72c8" stroke-width="1.2"/>
<rect x="579" y="-2" width="15" height="3" fill="#3a72c8"/>
<path d="M581 5.4l3-1.2l3 0.8l3-1.4l3 0.4" stroke="#d03020" stroke-width="1" fill="none"/>
<path d="M581 10l3-1.6l3 1l3-1.6l3 0.6" stroke="#22a022" stroke-width="1" fill="none"/>
<path d="M601 5h5l-2.5 3z" fill="#000"/>
<rect x="613" y="0" width="1" height="15" fill="#a0a0a0"/><rect x="614" y="0" width="1" height="15" fill="#fff"/>
<rect x="617" y="1" width="3" height="1" fill="#b4b4b4"/>
<rect x="617" y="3" width="3" height="1" fill="#b4b4b4"/>
<rect x="617" y="5" width="3" height="1" fill="#b4b4b4"/>
<rect x="617" y="7" width="3" height="1" fill="#b4b4b4"/>
<rect x="617" y="9" width="3" height="1" fill="#b4b4b4"/>
<rect x="617" y="11" width="3" height="1" fill="#b4b4b4"/>
<rect x="617" y="13" width="3" height="1" fill="#b4b4b4"/>
<rect x="624" y="0" width="22" height="15" fill="#f8f8f8"/>
<path d="M630 -3v13.6l3-2.8l2.2 5l2-0.9l-2.2-4.9h4.2z" fill="#444"/>
<path d="M662.5 -2v14.3M655 5.5h15" stroke="#555" stroke-width="1.1"/>
<rect x="680" y="0" width="1" height="15" fill="#a0a0a0"/><rect x="681" y="0" width="1" height="15" fill="#fff"/>
<path d="M696.5 -2v15" stroke="#555" stroke-width="1.2"/>
<path d="M719 6.5h12.5" stroke="#555" stroke-width="1.2"/>
<path d="M747 12l12.5-12" stroke="#555" stroke-width="1.2"/>
<path d="M773 11l11-11M777 13l11-11M775.5 2v9M779 0v9M782.5 -2v9" stroke="#666" stroke-width="1"/>
<text x="783.5" y="15" font-size="6.5" font-weight="bold" fill="#444">E</text>
<path d="M802 2.5h13M802 6.5h13M802 10.5h9" stroke="#777" stroke-width="1" stroke-dasharray="1 1"/>
<text x="812" y="15" font-size="6.5" font-weight="bold" fill="#444">F</text>
<text x="832" y="10.6" font-size="11.5" fill="#555" stroke="#555" stroke-width="0.3">A</text>
<rect x="859.5" y="1.5" width="11" height="11" fill="none" stroke="#555" stroke-width="1" stroke-dasharray="1 1" shape-rendering="crispEdges"/>
<path d="M862 4h6M865 4v7" stroke="#555" stroke-width="1.6"/>
<path d="M886 1l4-3l4 3l-4 3zM892 9l4-3l4 3l-4 3z" fill="#555"/><path d="M888 4l6 4" stroke="#555" stroke-width="1"/>
<path d="M907.5 5h5l-2.5 3z" fill="#000"/>
<rect x="919" y="0" width="1" height="15" fill="#a0a0a0"/><rect x="920" y="0" width="1" height="15" fill="#fff"/>
<rect x="922" y="1" width="3" height="1" fill="#b4b4b4"/>
<rect x="922" y="3" width="3" height="1" fill="#b4b4b4"/>
<rect x="922" y="5" width="3" height="1" fill="#b4b4b4"/>
<rect x="922" y="7" width="3" height="1" fill="#b4b4b4"/>
<rect x="922" y="9" width="3" height="1" fill="#b4b4b4"/>
<rect x="922" y="11" width="3" height="1" fill="#b4b4b4"/>
<rect x="922" y="13" width="3" height="1" fill="#b4b4b4"/>
<text x="933.7" y="10" font-size="9.8" fill="#3c3c3c" textLength="12.7" lengthAdjust="spacingAndGlyphs">M1</text>
<text x="961.3" y="10" font-size="9.8" fill="#3c3c3c" textLength="12.4" lengthAdjust="spacingAndGlyphs">M5</text>
<text x="987.9" y="10" font-size="9.8" fill="#3c3c3c" textLength="17" lengthAdjust="spacingAndGlyphs">M15</text>
<text x="1015.5" y="10" font-size="9.8" fill="#3c3c3c" textLength="17.4" lengthAdjust="spacingAndGlyphs">M30</text>
<text x="1046.3" y="10" font-size="9.8" fill="#3c3c3c" textLength="10.7" lengthAdjust="spacingAndGlyphs">H1</text>
<rect x="1068" y="0" width="1" height="15" fill="#a0a0a0"/><rect x="1069" y="0" width="1" height="15" fill="#fff"/>
<rect x="1070" y="0" width="22" height="15" fill="#f8f8f8"/>
<text x="1074" y="10" font-size="9.8" fill="#3c3c3c" textLength="11.3" lengthAdjust="spacingAndGlyphs">H4</text>
<text x="1103" y="10" font-size="9.8" fill="#3c3c3c" textLength="10.6" lengthAdjust="spacingAndGlyphs">D1</text>
<text x="1129.6" y="10" font-size="9.8" fill="#3c3c3c" textLength="14.1" lengthAdjust="spacingAndGlyphs">W1</text>
<text x="1157.2" y="10" font-size="9.8" fill="#3c3c3c" textLength="13.8" lengthAdjust="spacingAndGlyphs">MN</text>
<rect x="1179" y="0" width="1" height="15" fill="#a0a0a0"/><rect x="1180" y="0" width="1" height="15" fill="#fff"/>
<path d="M1642.4 10.8l4.4-4.6" stroke="#2a5ad0" stroke-width="2.4" stroke-linecap="round"/>
<circle cx="1649.4" cy="3.4" r="3.7" fill="#f4f6fc" stroke="#2a5ad0" stroke-width="1.4"/>
<path d="M1666.4 7a6 4.4 0 1 1 5.4 5l-2.6 2.4l0.2-3a5 4.4 0 0 1 -3-4.4z" fill="#e8e8f0" stroke="#a8a8a8" stroke-width="0.8"/>
<circle cx="1680.5" cy="3.7" r="8.2" fill="#df3a1e"/>
<text x="1677" y="8" font-size="11.5" font-weight="bold" fill="#fff" style="font-family:Liberation Serif,serif">1</text>
</g>
<defs><linearGradient id="gt" x1="0" y1="0" x2="0" y2="1"><stop offset="0" stop-color="#fb5252"/><stop offset="1" stop-color="#e13232"/></linearGradient><linearGradient id="gb" x1="0" y1="0" x2="0" y2="1"><stop offset="0" stop-color="#dc2c2c"/><stop offset="0.5" stop-color="#c81818"/><stop offset="1" stop-color="#b00000"/></linearGradient><linearGradient id="gs" x1="0" y1="0" x2="0" y2="1"><stop offset="0" stop-color="#f4f4f4"/><stop offset="0.45" stop-color="#e6e6e6"/><stop offset="0.5" stop-color="#d6d6d6"/><stop offset="1" stop-color="#cfcfcf"/></linearGradient></defs>
<rect x="0" y="42" width="210" height="57" fill="#fff"/>
<rect x="0" y="42" width="43" height="24" fill="url(#gt)"/>
<rect x="0" y="42" width="43" height="1" fill="#c81010"/>
<rect x="42" y="42" width="1" height="24" fill="#c81818"/>
<rect x="158" y="42" width="52" height="24" fill="url(#gt)"/>
<rect x="158" y="42" width="52" height="1" fill="#c81010"/>
<rect x="158" y="42" width="1" height="24" fill="#c81818"/>
<rect x="209" y="42" width="1" height="57" fill="#c01010"/>
<rect x="0" y="66" width="100" height="33" fill="url(#gb)"/>
<rect x="102" y="66" width="108" height="33" fill="url(#gb)"/>
<rect x="99" y="66" width="1" height="33" fill="#b01010"/>
<rect x="102" y="66" width="1" height="33" fill="#c01818"/>
<rect x="43" y="66" width="57" height="1" fill="#c41414"/>
<rect x="102" y="66" width="56" height="1" fill="#c41414"/>
<rect x="0" y="65" width="39" height="1" fill="#a81010"/><rect x="0" y="66" width="39" height="1" fill="#f48a8a"/>
<rect x="162" y="65" width="44" height="1" fill="#a81010"/><rect x="162" y="66" width="44" height="1" fill="#f48a8a"/>
<rect x="45.5" y="42.5" width="110" height="21" fill="#fff" stroke="#a6abb3" stroke-width="1"/>
<rect x="46.5" y="43.5" width="19.5" height="19" fill="url(#gs)"/>
<rect x="66" y="43" width="1" height="20" fill="#a6abb3"/>
<rect x="135.5" y="43.5" width="19.5" height="19" fill="url(#gs)"/>
<rect x="134.5" y="43" width="1" height="20" fill="#a6abb3"/>
<path d="M53 51.3h5.4l-2.7 3z" fill="#4a62c4"/>
<path d="M142 54h5.4l-2.7-3z" fill="#4a62c4"/>
<text x="3.2" y="57.7" font-size="12" fill="#fff" textLength="25.4" lengthAdjust="spacingAndGlyphs">SELL</text>
<text x="171.6" y="57.9" font-size="12" fill="#fff" textLength="23" lengthAdjust="spacingAndGlyphs">BUY</text>
<text x="107.8" y="57" font-size="12" fill="#000" textLength="23" lengthAdjust="spacingAndGlyphs">1.00</text>
<text x="7.9" y="93.9" font-size="12.3" fill="#fff" font-weight="bold" textLength="33.3" lengthAdjust="spacingAndGlyphs">27043</text>
<text x="117" y="93.9" font-size="12.3" fill="#fff" font-weight="bold" textLength="34.6" lengthAdjust="spacingAndGlyphs">27066</text>
<rect x="47" y="90.5" width="3.6" height="3.5" rx="0.8" fill="#fff"/>
<rect x="157.2" y="90.5" width="3.8" height="3.5" rx="0.8" fill="#fff"/>
<path d="M66.6 71H56.6L55.9 80.7C57.5 79.7 59.4 79.3 61 79.3C65 79.3 66.9 82.6 66.9 86.3C66.9 90.4 64.3 93.3 60.3 93.3C57.8 93.3 55.9 92.6 54.5 91.3" fill="none" stroke="#fff" stroke-width="2.1" stroke-linejoin="miter"/>
<path d="M66.6 71H56.6L55.9 80.7C57.5 79.7 59.4 79.3 61 79.3C65 79.3 66.9 82.6 66.9 86.3C66.9 90.4 64.3 93.3 60.3 93.3C57.8 93.3 55.9 92.6 54.5 91.3" fill="none" stroke="#fff" stroke-width="2.1" stroke-linejoin="miter" transform="translate(111 0)"/>
</svg>
</body></html>
